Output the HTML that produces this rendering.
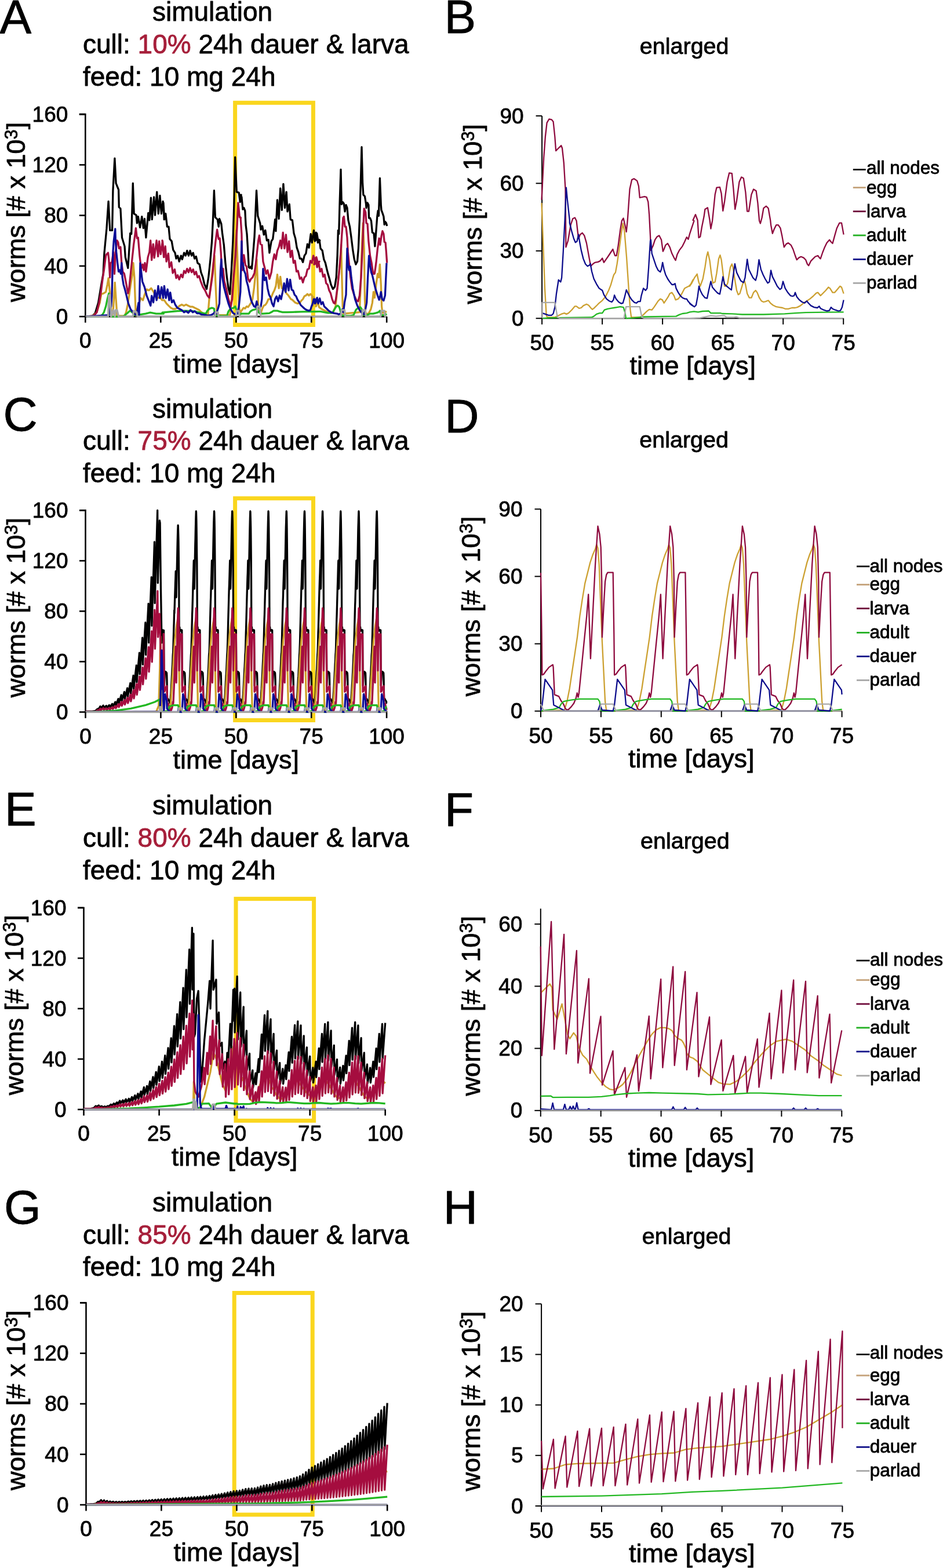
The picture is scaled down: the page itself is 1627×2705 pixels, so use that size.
<!DOCTYPE html>
<html><head><meta charset="utf-8"><style>
html,body{margin:0;padding:0;background:#fff;}
svg{display:block;}
text{font-family:"Liberation Sans", Arial, sans-serif;stroke:#000;stroke-width:0.8px;stroke-linejoin:round;}
.rd{fill:#a61f3a;stroke:#a61f3a;}
</style></head><body>
<svg xmlns="http://www.w3.org/2000/svg" width="1627" height="2705" viewBox="0 0 1627 2705">
<rect width="1627" height="2705" fill="#fff"/>
<rect x="405.6" y="177.3" width="134.79999999999995" height="383.2" fill="none" stroke="#fad61e" stroke-width="7"/>
<rect x="405.6" y="859.7" width="134.89999999999998" height="382.79999999999995" fill="none" stroke="#fad61e" stroke-width="7"/>
<rect x="407.0" y="1550.6" width="134.60000000000002" height="382.70000000000005" fill="none" stroke="#fad61e" stroke-width="7"/>
<rect x="404.2" y="2230.5" width="135.00000000000006" height="382.5" fill="none" stroke="#fad61e" stroke-width="7"/>
<text x="-0.5" y="56.6" font-size="82" text-anchor="start" fill="#000" >A</text>
<text x="263.0" y="36.0" font-size="46" text-anchor="start" fill="#000" >simulation</text>
<text x="143.0" y="91.8" font-size="46" text-anchor="start" fill="#000" >cull: <tspan class="rd">10%</tspan> 24h dauer &amp; larva</text>
<text x="143.0" y="147.7" font-size="46" text-anchor="start" fill="#000" >feed: 10 mg 24h</text>
<path d="M136.8,197.1 H147.3 V546.1 H667.2" fill="none" stroke="#000" stroke-width="2.6"/>
<path d="M147.6,546.1 L159.3,545.4 L164.4,539.8 L169.6,522.3 L174.8,491.1 L178.1,472.3 L180.0,436.1 L183.9,394.9 L187.1,347.4 L189.7,397.4 L193.6,397.4 L194.9,328.7 L197.9,273.1 L200.1,316.2 L204.6,327.4 L205.3,357.4 L207.9,359.9 L210.5,409.9 L215.0,424.9 L216.3,443.6 L220.8,462.3 L224.7,402.4 L226.7,403.6 L229.3,316.2 L231.2,368.6 L235.1,371.1 L236.4,384.9 L238.3,373.6 L241.6,392.4 L244.8,373.6 L247.4,393.6 L249.4,377.4 L251.9,409.9 L255.8,367.4 L257.8,379.9 L260.4,341.1 L262.3,378.6 L265.6,339.9 L267.5,371.1 L270.7,331.2 L273.3,368.6 L275.9,337.4 L278.5,368.6 L281.1,347.4 L283.7,378.6 L281.9,349.9 L283.2,378.6 L285.8,368.6 L288.4,391.1 L291.0,391.1 L293.0,412.4 L296.2,416.1 L298.8,431.1 L302.0,436.1 L304.0,446.1 L306.6,441.1 L309.2,451.1 L312.4,441.1 L314.4,447.4 L317.6,436.1 L320.2,441.1 L322.8,432.4 L325.4,441.1 L328.0,432.4 L330.6,441.1 L333.2,436.1 L335.7,446.1 L338.3,442.4 L340.9,453.6 L344.2,456.1 L346.8,469.8 L350.0,478.6 L352.6,489.8 L356.5,498.6 L359.7,478.6 L363.0,447.4 L365.6,416.1 L367.5,378.6 L369.4,328.7 L371.4,374.9 L375.3,378.6 L377.2,391.1 L378.5,377.4 L381.8,386.1 L383.7,403.6 L386.3,422.4 L388.9,453.6 L391.5,478.6 L394.1,497.3 L396.7,507.3 L399.3,466.1 L401.9,416.1 L403.8,353.6 L405.7,271.2 L408.3,331.2 L412.2,332.4 L414.2,348.6 L416.1,336.2 L415.0,336.2 L416.9,339.9 L418.9,361.1 L420.8,358.6 L422.8,363.6 L424.1,388.6 L426.0,403.6 L428.0,436.1 L429.3,461.1 L431.2,462.3 L433.1,459.8 L434.4,463.6 L436.4,441.1 L439.0,408.6 L440.9,366.1 L442.5,328.7 L444.8,372.4 L448.7,384.9 L450.0,396.1 L452.6,389.9 L455.2,404.9 L457.8,397.4 L460.4,414.9 L463.0,413.6 L464.9,436.1 L468.2,416.1 L470.7,412.4 L473.3,391.1 L474.6,378.6 L475.9,398.6 L478.5,344.9 L481.1,377.4 L483.7,324.9 L486.3,362.4 L488.9,317.4 L491.5,358.6 L494.1,331.2 L496.0,364.9 L499.3,352.4 L501.2,378.6 L504.4,379.9 L507.0,402.4 L509.6,411.1 L512.2,427.4 L514.8,434.9 L517.4,446.1 L520.0,446.1 L522.6,452.3 L525.2,441.1 L527.8,437.4 L530.4,421.1 L533.0,427.4 L536.2,403.6 L538.2,418.6 L541.4,397.4 L543.3,416.1 L546.6,402.4 L549.2,417.4 L551.8,414.9 L542.6,413.6 L545.2,401.1 L548.4,418.6 L551.0,413.6 L553.0,428.6 L556.2,432.4 L558.8,447.4 L561.4,453.6 L564.0,464.8 L565.9,472.3 L568.5,481.1 L571.1,491.1 L574.4,498.6 L577.6,494.8 L580.2,478.6 L582.1,441.1 L583.4,397.4 L584.7,403.6 L586.0,353.6 L588.0,292.4 L589.3,352.4 L591.2,348.6 L593.2,351.1 L595.1,364.9 L597.0,353.6 L599.0,358.6 L600.9,379.9 L603.5,391.1 L606.1,409.9 L608.7,431.1 L611.3,447.4 L613.9,456.1 L616.5,451.1 L618.4,428.6 L620.4,378.6 L622.3,316.2 L624.0,253.7 L625.6,316.2 L626.9,336.2 L629.4,338.7 L631.4,351.1 L632.0,358.6 L634.0,349.9 L635.9,353.6 L636.6,376.1 L638.5,376.1 L640.5,381.1 L642.4,401.1 L645.0,402.4 L646.9,424.9 L649.5,391.1 L650.8,373.6 L652.1,363.6 L653.4,372.4 L655.4,307.4 L657.3,353.6 L658.0,362.4 L659.9,367.4 L661.9,373.6 L663.2,387.4 L664.4,382.4 L666.4,384.9 L667.7,389.9" fill="none" stroke="#000000" stroke-width="3.3" stroke-linejoin="round"/>
<path d="M147.6,546.1 L160.6,544.8 L167.0,538.6 L172.2,522.3 L174.8,507.3 L178.7,506.1 L182.6,503.6 L185.2,491.1 L187.1,479.8 L189.7,506.1 L191.0,528.6 L193.0,543.6 L194.9,541.1 L196.9,509.8 L198.2,487.3 L200.1,516.1 L202.0,544.8 L215.0,544.8 L217.6,538.6 L220.2,526.1 L222.8,509.8 L225.4,491.1 L228.6,472.3 L229.9,453.6 L231.9,478.6 L234.3,544.3 L238.1,529.2 L242.8,514.2 L246.6,517.9 L249.4,508.5 L253.2,499.1 L257.0,500.9 L260.8,497.2 L264.5,502.8 L268.3,510.4 L272.1,514.2 L275.8,512.3 L279.6,517.9 L283.4,517.9 L287.2,523.6 L290.9,527.4 L294.7,531.1 L298.5,533.0 L302.3,533.0 L306.0,531.1 L309.8,527.4 L313.6,525.5 L317.4,527.4 L321.1,525.5 L324.9,527.4 L328.7,529.2 L332.5,529.2 L336.2,531.1 L340.0,533.0 L343.8,534.9 L347.5,538.7 L353.2,542.5 L358.9,544.3 L359.1,538.6 L361.0,516.1 L363.6,491.1 L368.2,453.6 L370.1,441.1 L372.0,491.1 L374.0,534.8 L375.9,543.6 L396.7,543.6 L398.0,534.8 L400.6,503.6 L403.2,466.1 L405.7,428.6 L407.7,397.4 L409.6,441.1 L412.2,528.6 L414.8,541.1 L415.0,538.6 L417.6,534.8 L420.2,531.1 L422.8,532.3 L425.4,528.6 L428.0,529.8 L430.6,526.1 L433.1,522.3 L435.7,516.1 L438.3,497.3 L440.9,472.3 L442.9,447.4 L444.2,478.6 L445.5,528.6 L447.4,538.6 L450.6,538.6 L452.6,532.3 L455.2,527.3 L457.8,526.1 L460.4,522.3 L463.0,516.1 L465.6,516.1 L468.2,512.3 L470.7,506.1 L473.3,501.1 L475.9,493.6 L478.5,473.6 L481.1,497.3 L483.7,477.3 L486.3,497.3 L488.9,497.3 L491.5,501.1 L494.1,506.1 L496.7,508.6 L499.3,512.3 L501.9,516.1 L504.4,517.3 L507.0,519.8 L509.6,522.3 L513.5,523.6 L517.4,522.3 L520.0,518.6 L522.6,516.1 L525.2,511.1 L527.8,509.8 L530.4,507.3 L533.0,509.8 L535.6,507.3 L538.2,509.8 L540.0,527.3 L540.7,512.3 L544.6,518.6 L545.2,528.6 L548.5,519.8 L550.4,529.8 L555.6,533.6 L560.7,536.1 L565.9,538.6 L571.1,539.8 L575.0,538.6 L578.9,528.6 L582.8,491.1 L586.7,453.6 L588.6,422.4 L589.9,478.6 L591.2,528.6 L592.5,541.1 L620.4,538.6 L622.3,491.1 L624.3,428.6 L626.2,384.9 L628.2,428.6 L629.4,516.1 L630.7,541.1 L635.9,541.1 L639.8,533.6 L642.4,522.3 L644.4,503.6 L646.3,513.6 L648.9,491.1 L651.5,472.3 L653.4,478.6 L655.4,456.1 L657.3,491.1 L658.6,528.6 L659.9,539.8 L664.4,538.6 L667.0,537.3" fill="none" stroke="#cfa02a" stroke-width="3.3" stroke-linejoin="round"/>
<path d="M147.6,546.1 L161.9,544.8 L167.0,538.6 L170.9,522.3 L174.2,503.6 L177.4,478.6 L179.4,466.1 L182.6,441.1 L183.9,438.6 L186.5,436.1 L187.8,447.4 L189.7,478.6 L191.0,453.6 L193.0,452.3 L195.6,434.9 L197.5,472.3 L199.4,434.9 L202.0,414.9 L204.0,418.6 L205.3,428.6 L207.9,426.1 L209.8,453.6 L211.8,468.6 L214.4,472.3 L216.9,484.8 L220.8,506.1 L222.8,497.3 L226.0,466.1 L228.6,441.1 L230.6,422.4 L234.4,393.6 L236.4,411.1 L238.3,409.9 L240.9,441.1 L243.5,463.6 L246.1,456.1 L248.1,466.1 L250.0,453.6 L251.9,468.6 L255.2,443.6 L257.8,434.9 L259.7,414.9 L261.7,448.6 L264.3,421.1 L266.2,444.9 L270.1,414.9 L272.7,442.4 L274.6,416.1 L277.2,438.6 L280.5,416.1 L283.1,443.6 L280.0,414.9 L282.6,443.6 L285.2,424.9 L287.1,451.1 L290.4,437.4 L292.3,461.1 L295.6,452.3 L298.1,471.1 L301.4,464.8 L304.0,479.8 L306.6,474.8 L309.2,482.3 L312.4,473.6 L315.0,478.6 L317.6,467.3 L320.2,471.1 L322.8,463.6 L325.4,469.8 L328.0,462.3 L330.6,469.8 L333.2,464.8 L335.7,473.6 L338.3,468.6 L340.9,478.6 L343.5,476.1 L346.1,484.8 L350.0,494.8 L353.9,501.1 L357.8,509.8 L361.0,513.6 L364.3,491.1 L366.9,472.3 L369.4,441.1 L372.0,416.1 L374.6,396.1 L377.2,412.4 L379.2,411.1 L381.1,434.9 L383.1,472.3 L385.0,463.6 L386.9,484.8 L390.2,497.3 L394.1,516.1 L398.0,528.6 L400.6,516.1 L403.2,478.6 L406.4,441.1 L409.0,391.1 L410.9,349.9 L413.5,374.9 L415.5,376.1 L415.0,374.9 L416.9,403.6 L418.2,466.1 L420.8,439.9 L423.4,457.3 L425.4,459.8 L428.0,481.1 L430.6,486.1 L433.1,481.1 L435.7,478.6 L439.0,471.1 L440.9,458.6 L442.9,441.1 L445.5,416.1 L447.4,406.1 L449.4,421.1 L451.9,422.4 L453.9,451.1 L456.5,461.1 L459.1,472.3 L461.7,466.1 L464.9,481.1 L468.2,469.8 L470.7,451.1 L473.3,438.6 L475.9,447.4 L478.5,432.4 L481.1,426.1 L483.7,414.9 L485.7,428.6 L488.2,401.1 L490.8,428.6 L493.4,404.9 L496.0,434.9 L498.6,416.1 L501.2,443.6 L503.8,432.4 L506.4,453.6 L509.0,449.8 L511.6,468.6 L514.2,467.3 L517.4,481.1 L520.0,478.6 L522.6,487.3 L525.2,478.6 L527.8,476.1 L530.4,464.8 L533.0,463.6 L535.6,449.8 L538.2,453.6 L540.7,441.1 L543.3,452.3 L545.9,443.6 L548.5,453.6 L551.1,451.1 L541.9,456.1 L544.5,444.9 L547.1,461.1 L549.7,452.3 L552.3,468.6 L554.9,463.6 L557.5,477.3 L560.1,473.6 L562.7,488.6 L565.3,491.1 L567.9,501.1 L570.5,506.1 L573.1,516.1 L575.6,522.3 L577.6,523.6 L579.5,516.1 L582.8,491.1 L585.4,466.1 L588.0,434.9 L589.9,403.6 L591.9,376.1 L593.4,373.6 L595.1,391.1 L597.0,391.1 L599.0,409.9 L600.3,434.9 L602.2,453.6 L604.8,478.6 L607.4,497.3 L611.3,509.8 L615.2,518.6 L617.8,519.8 L620.4,509.8 L623.0,478.6 L625.6,422.4 L628.2,359.9 L630.7,366.1 L632.0,384.9 L634.0,386.1 L635.9,416.1 L638.5,441.1 L641.1,453.6 L643.7,472.3 L646.3,472.3 L648.9,453.6 L651.5,428.6 L654.1,411.1 L656.0,422.4 L658.0,407.4 L659.9,398.6 L661.9,403.6 L663.2,417.4 L665.1,418.6 L666.4,434.9 L667.7,453.6" fill="none" stroke="#a50d3f" stroke-width="3.3" stroke-linejoin="round"/>
<path d="M147.6,546.1 L170.9,546.1 L176.1,543.6 L179.4,538.6 L182.6,528.6 L185.2,516.1 L187.8,506.1 L189.7,534.8 L191.7,546.1 L212.4,546.1 L215.7,543.6 L220.2,539.8 L224.1,536.1 L228.0,538.6 L231.9,543.6 L235.7,543.6 L243.5,542.3 L251.3,541.1 L259.1,539.2 L269.4,541.1 L282.4,541.1 L280.0,539.2 L293.0,537.9 L305.9,536.7 L318.9,536.1 L331.9,536.7 L344.8,539.2 L355.2,541.1 L357.8,536.1 L361.7,532.3 L365.6,531.1 L369.4,532.3 L370.7,543.6 L377.2,544.8 L391.5,544.8 L394.1,537.3 L398.0,532.3 L403.2,531.1 L405.7,528.6 L408.3,534.8 L410.9,541.1 L414.8,542.3 L415.0,541.1 L429.3,541.1 L431.9,537.3 L435.7,534.8 L440.9,533.6 L443.5,532.3 L446.1,538.6 L448.7,541.1 L453.9,541.1 L464.3,540.4 L468.2,538.6 L472.0,536.1 L478.5,536.1 L482.4,537.3 L487.6,538.6 L495.4,538.6 L505.7,538.3 L518.7,537.9 L531.7,537.6 L544.6,537.6 L549.8,537.3 L540.0,537.3 L553.0,537.3 L565.9,539.8 L573.7,539.8 L576.3,534.8 L580.2,528.6 L582.8,527.3 L585.4,529.8 L589.3,543.6 L594.4,544.8 L604.8,544.8 L610.0,543.6 L613.9,534.8 L617.8,531.1 L621.7,529.8 L624.3,533.6 L626.9,543.6 L633.3,543.6 L638.5,541.1 L643.7,541.1 L648.9,539.8 L652.8,538.6 L655.4,536.1 L658.0,543.6 L664.4,543.6 L667.0,541.1" fill="none" stroke="#22b822" stroke-width="3.3" stroke-linejoin="round"/>
<path d="M147.6,546.1 L187.8,543.6 L189.1,534.8 L191.7,528.6 L193.0,509.8 L194.9,434.9 L196.2,416.1 L198.8,394.9 L199.4,416.1 L200.7,434.9 L202.7,453.6 L204.6,468.6 L206.6,466.1 L208.5,472.3 L209.8,453.6 L211.1,478.6 L213.1,491.1 L215.7,499.8 L218.2,509.8 L221.5,523.6 L225.4,533.6 L229.3,538.6 L233.2,542.3 L235.7,543.6 L237.0,534.8 L239.0,522.3 L240.0,544.3 L241.9,453.8 L245.7,485.8 L249.4,495.3 L253.2,510.4 L257.0,519.8 L259.8,527.4 L261.7,510.4 L264.5,521.7 L267.4,500.9 L270.2,517.9 L273.0,493.4 L275.8,514.2 L278.7,495.3 L281.5,514.2 L283.4,493.4 L286.2,514.2 L289.1,499.1 L291.9,517.9 L293.8,504.7 L296.6,521.7 L299.4,517.9 L302.3,525.5 L306.0,531.1 L309.8,533.0 L313.6,534.9 L317.4,538.7 L321.1,536.8 L324.9,539.6 L328.7,534.9 L332.5,538.7 L336.2,536.8 L340.0,540.6 L343.8,540.6 L347.5,542.5 L353.2,543.4 L358.9,544.3 L364.5,543.4 L368.2,541.1 L370.7,538.6 L373.3,541.1 L376.6,531.1 L378.5,523.6 L380.5,466.1 L381.8,447.4 L383.7,478.6 L386.3,494.8 L390.2,509.8 L394.1,523.6 L398.0,533.6 L401.9,539.8 L405.7,542.3 L409.6,541.1 L412.2,528.6 L414.8,503.6 L416.3,441.1 L416.9,416.1 L417.4,453.6 L418.9,453.6 L420.8,466.1 L423.4,472.3 L425.4,484.8 L428.0,493.6 L430.6,507.3 L433.1,517.3 L435.7,523.6 L438.3,528.6 L440.9,529.8 L442.9,519.8 L444.8,528.6 L447.4,531.1 L450.0,528.6 L451.9,516.1 L453.9,463.6 L456.5,483.6 L459.1,478.6 L461.7,497.3 L464.3,508.6 L466.9,513.6 L469.4,523.6 L472.0,528.6 L474.6,516.1 L477.2,511.1 L479.8,519.8 L482.4,509.8 L485.0,516.1 L487.6,503.6 L490.2,488.6 L492.8,503.6 L495.4,481.1 L498.0,501.1 L500.6,482.3 L503.2,499.8 L505.7,501.1 L508.3,508.6 L510.9,511.1 L513.5,517.3 L516.1,521.1 L518.7,526.1 L521.3,528.6 L525.2,532.3 L529.1,534.8 L533.0,536.1 L535.6,534.8 L537.5,528.6 L539.4,523.6 L541.4,516.1 L542.6,516.1 L543.3,523.6 L544.5,522.3 L545.9,516.1 L547.1,513.6 L548.5,522.3 L549.1,523.6 L551.1,516.1 L551.7,514.8 L554.3,524.8 L556.9,521.1 L559.4,528.6 L563.3,532.3 L567.2,536.1 L571.1,538.6 L576.3,540.4 L581.5,541.1 L584.1,542.3 L588.0,541.1 L590.6,533.6 L592.5,538.6 L594.4,522.3 L597.0,508.6 L599.0,428.6 L600.3,453.6 L602.2,466.1 L604.2,459.8 L606.1,478.6 L608.7,497.3 L612.6,516.1 L616.5,527.3 L620.4,534.8 L624.3,539.8 L628.2,542.3 L630.7,532.3 L632.7,522.3 L634.6,478.6 L636.6,441.1 L638.5,457.3 L640.5,469.8 L642.4,474.8 L645.0,486.1 L647.6,497.3 L651.5,509.8 L654.1,517.3 L656.0,509.8 L657.3,503.6 L659.3,516.1 L661.9,518.6 L664.4,509.8 L667.0,453.6" fill="none" stroke="#0c0c96" stroke-width="3.3" stroke-linejoin="round"/>
<path d="M147.6,546.1 L186.5,546.1 L187.8,509.8 L189.7,508.6 L191.7,546.1 L195.6,534.8 L198.2,546.1 L199.4,534.8 L202.0,534.8 L204.6,546.1 L229.3,546.1 L230.6,536.1 L235.7,538.6 L237.0,546.1 L282.4,546.1 L280.0,546.1 L370.7,546.1 L372.0,538.6 L375.9,538.6 L377.2,546.1 L407.0,546.1 L408.3,536.1 L412.2,536.1 L413.5,546.1 L414.8,546.1 L415.0,546.1 L442.9,546.1 L444.2,528.6 L448.1,528.6 L450.0,546.1 L549.8,546.1 L540.0,546.1 L588.0,546.1 L589.3,534.8 L594.4,534.8 L595.7,546.1 L624.3,546.1 L625.6,534.8 L630.1,534.8 L631.4,546.1 L656.7,546.1 L658.0,536.1 L663.2,536.1 L664.4,546.1 L667.0,546.1" fill="none" stroke="#a6a6a6" stroke-width="3.3" stroke-linejoin="round"/>
<line x1="136.8" y1="546.1" x2="147.3" y2="546.1" stroke="#000" stroke-width="2.6" stroke-linecap="butt"/>
<text x="117.3" y="558.7" font-size="37" text-anchor="end" fill="#000" >0</text>
<line x1="136.8" y1="458.9" x2="147.3" y2="458.9" stroke="#000" stroke-width="2.6" stroke-linecap="butt"/>
<text x="117.3" y="471.5" font-size="37" text-anchor="end" fill="#000" >40</text>
<line x1="136.8" y1="371.6" x2="147.3" y2="371.6" stroke="#000" stroke-width="2.6" stroke-linecap="butt"/>
<text x="117.3" y="384.2" font-size="37" text-anchor="end" fill="#000" >80</text>
<line x1="136.8" y1="284.4" x2="147.3" y2="284.4" stroke="#000" stroke-width="2.6" stroke-linecap="butt"/>
<text x="117.3" y="297.0" font-size="37" text-anchor="end" fill="#000" >120</text>
<line x1="136.8" y1="197.1" x2="147.3" y2="197.1" stroke="#000" stroke-width="2.6" stroke-linecap="butt"/>
<text x="117.3" y="209.7" font-size="37" text-anchor="end" fill="#000" >160</text>
<line x1="147.3" y1="546.1" x2="147.3" y2="556.6" stroke="#000" stroke-width="2.6" stroke-linecap="butt"/>
<text x="147.3" y="600.3" font-size="37" text-anchor="middle" fill="#000" >0</text>
<line x1="277.3" y1="546.1" x2="277.3" y2="556.6" stroke="#000" stroke-width="2.6" stroke-linecap="butt"/>
<text x="277.3" y="600.3" font-size="37" text-anchor="middle" fill="#000" >25</text>
<line x1="407.3" y1="546.1" x2="407.3" y2="556.6" stroke="#000" stroke-width="2.6" stroke-linecap="butt"/>
<text x="407.3" y="600.3" font-size="37" text-anchor="middle" fill="#000" >50</text>
<line x1="537.2" y1="546.1" x2="537.2" y2="556.6" stroke="#000" stroke-width="2.6" stroke-linecap="butt"/>
<text x="537.2" y="600.3" font-size="37" text-anchor="middle" fill="#000" >75</text>
<line x1="667.2" y1="546.1" x2="667.2" y2="556.6" stroke="#000" stroke-width="2.6" stroke-linecap="butt"/>
<text x="667.2" y="600.3" font-size="37" text-anchor="middle" fill="#000" >100</text>
<text x="407.2" y="643.2" font-size="45" text-anchor="middle" fill="#000" >time [days]</text>
<text transform="translate(42.9,365.9) rotate(-90)" x="0" y="0" font-size="45" text-anchor="middle" textLength="310.20000000000005" lengthAdjust="spacingAndGlyphs">worms [# x 10<tspan font-size="30.6" dy="-13.0">3</tspan><tspan dy="13.0">]</tspan></text>
<text x="5.5" y="743.4" font-size="82" text-anchor="start" fill="#000" >C</text>
<text x="263.0" y="720.6" font-size="46" text-anchor="start" fill="#000" >simulation</text>
<text x="143.0" y="776.4" font-size="46" text-anchor="start" fill="#000" >cull: <tspan class="rd">75%</tspan> 24h dauer &amp; larva</text>
<text x="143.0" y="832.3" font-size="46" text-anchor="start" fill="#000" >feed: 10 mg 24h</text>
<path d="M137.0,880.4 H147.5 V1228.4 H667.1" fill="none" stroke="#000" stroke-width="2.6"/>
<path d="M147.5,1227.3 L158.9,1227.3 L163.1,1226.7 L163.7,1227.3 L168.3,1223.0 L168.9,1224.9 L173.0,1218.6 L173.6,1222.1 L178.2,1217.1 L178.8,1221.2 L183.4,1217.5 L184.0,1221.4 L188.5,1216.4 L189.2,1220.7 L193.7,1214.3 L194.4,1219.4 L198.9,1211.0 L199.6,1217.3 L204.1,1205.6 L204.8,1213.8 L209.3,1199.0 L210.0,1209.6 L214.5,1193.6 L215.2,1206.1 L219.7,1187.1 L220.3,1202.0 L224.9,1178.4 L225.5,1196.4 L230.1,1165.3 L230.7,1188.0 L235.3,1147.9 L235.9,1176.9 L240.5,1126.2 L241.1,1163.0 L245.7,1100.1 L246.3,1146.3 L250.9,1074.0 L251.5,1129.6 L256.1,1041.3 L256.7,1108.7 L261.3,995.7 L261.9,1079.5 L266.5,934.8 L267.1,1040.5 L271.7,880.4 L272.3,1005.7 L275.3,897.8 L276.1,902.1 L277.4,1010.9 L279.0,1108.8 L279.7,1097.9 L281.0,1087.0 L282.1,1089.2 L282.6,1093.5 L282.6,1087.4 L282.8,1116.2 L283.0,1146.0 L283.2,1182.7 L283.4,1179.4 L283.6,1176.1 L283.8,1172.8 L284.1,1168.6 L284.3,1163.8 L284.5,1159.1 L284.7,1158.7 L284.9,1158.7 L285.1,1158.7 L285.3,1158.7 L285.5,1158.8 L285.7,1158.8 L285.9,1158.8 L286.1,1158.8 L286.3,1159.1 L286.5,1159.4 L286.8,1159.7 L287.0,1160.0 L287.2,1160.3 L287.4,1160.6 L287.6,1160.9 L287.8,1165.1 L288.0,1173.2 L288.2,1187.8 L288.4,1197.8 L288.6,1204.3 L288.8,1204.6 L289.0,1204.8 L289.2,1205.1 L289.5,1205.4 L289.7,1205.7 L289.9,1206.0 L290.1,1206.2 L290.3,1206.5 L290.5,1207.1 L290.7,1207.7 L290.9,1207.9 L291.1,1208.2 L291.3,1208.4 L291.5,1208.8 L291.7,1209.1 L291.9,1209.5 L292.2,1209.9 L292.4,1210.3 L292.6,1211.3 L292.8,1212.6 L293.0,1212.4 L293.2,1212.1 L293.4,1210.9 L293.6,1209.6 L293.8,1208.4 L294.0,1206.4 L294.2,1203.8 L294.4,1201.1 L294.7,1198.5 L294.9,1195.6 L295.1,1192.5 L295.3,1188.9 L295.5,1185.2 L295.7,1181.6 L295.9,1177.8 L296.1,1174.0 L296.3,1170.2 L296.5,1166.4 L296.7,1162.6 L296.9,1158.6 L297.1,1154.3 L297.4,1150.0 L297.6,1145.8 L297.8,1141.5 L298.0,1136.3 L298.2,1130.9 L298.4,1127.8 L298.6,1125.8 L298.8,1121.9 L299.0,1115.6 L299.2,1107.8 L299.4,1099.3 L299.6,1091.4 L299.8,1083.6 L300.1,1075.8 L300.3,1068.0 L300.5,1060.2 L300.7,1052.6 L300.9,1058.0 L301.1,1051.0 L301.3,1044.1 L301.5,1037.1 L301.7,1030.4 L301.9,1024.3 L302.1,1018.2 L302.3,1012.1 L302.5,1005.3 L302.8,998.2 L303.0,991.0 L303.2,985.3 L303.4,996.6 L303.6,1007.9 L303.8,1019.2 L304.0,1030.7 L304.2,1028.7 L304.4,1018.7 L304.6,1008.7 L304.8,998.7 L305.0,988.8 L305.3,979.1 L305.5,969.4 L305.7,959.7 L305.9,950.0 L306.1,940.3 L306.3,932.1 L306.5,924.2 L306.7,916.8 L306.9,911.5 L307.1,906.2 L307.3,907.2 L307.5,914.2 L307.7,921.2 L308.0,933.3 L308.2,948.9 L308.4,966.6 L308.6,987.1 L308.8,1016.4 L309.0,1065.3 L309.2,1091.9 L309.4,1091.9 L309.6,1091.9 L309.8,1081.8 L310.0,1083.4 L310.2,1085.0 L310.4,1086.3 L310.7,1087.3 L310.9,1088.3 L311.1,1088.0 L311.3,1087.3 L311.5,1086.6 L311.7,1086.6 L311.9,1086.6 L312.1,1086.7 L312.3,1086.7 L312.5,1086.8 L312.7,1086.8 L312.9,1086.8 L313.1,1086.9 L313.4,1086.9 L313.6,1086.9 L313.8,1087.4 L314.0,1116.2 L314.2,1146.0 L314.4,1182.7 L314.6,1179.4 L314.8,1176.1 L315.0,1172.8 L315.2,1168.6 L315.4,1163.8 L315.6,1159.1 L315.9,1158.7 L316.1,1158.7 L316.3,1158.7 L316.5,1158.7 L316.7,1158.8 L316.9,1158.8 L317.1,1158.8 L317.3,1158.8 L317.5,1159.1 L317.7,1159.4 L317.9,1159.7 L318.1,1160.0 L318.3,1160.3 L318.6,1160.6 L318.8,1160.9 L319.0,1165.1 L319.2,1173.2 L319.4,1187.8 L319.6,1197.8 L319.8,1204.3 L320.0,1204.6 L320.2,1204.8 L320.4,1205.1 L320.6,1205.4 L320.8,1205.7 L321.0,1206.0 L321.3,1206.2 L321.5,1206.5 L321.7,1207.1 L321.9,1207.7 L322.1,1207.9 L322.3,1208.2 L322.5,1208.4 L322.7,1208.8 L322.9,1209.1 L323.1,1209.5 L323.3,1209.9 L323.5,1210.3 L323.7,1211.3 L324.0,1212.6 L324.2,1212.4 L324.4,1212.1 L324.6,1210.9 L324.8,1209.6 L325.0,1208.4 L325.2,1206.4 L325.4,1203.8 L325.6,1201.1 L325.8,1198.5 L326.0,1195.6 L326.2,1192.5 L326.5,1188.9 L326.7,1185.2 L326.9,1181.6 L327.1,1177.8 L327.3,1174.0 L327.5,1170.2 L327.7,1166.4 L327.9,1162.6 L328.1,1158.6 L328.3,1154.3 L328.5,1150.0 L328.7,1145.8 L328.9,1141.5 L329.2,1136.3 L329.4,1130.9 L329.6,1127.8 L329.8,1125.8 L330.0,1121.9 L330.2,1115.6 L330.4,1107.8 L330.6,1099.3 L330.8,1091.4 L331.0,1083.6 L331.2,1075.8 L331.4,1068.0 L331.6,1060.2 L331.9,1052.6 L332.1,1045.2 L332.3,1037.7 L332.5,1030.2 L332.7,1022.7 L332.9,1015.4 L333.1,1008.9 L333.3,1002.4 L333.5,995.8 L333.7,988.5 L333.9,980.8 L334.1,973.1 L334.3,967.0 L334.6,979.2 L334.8,991.3 L335.0,1003.5 L335.2,1015.9 L335.4,1013.7 L335.6,1002.9 L335.8,992.2 L336.0,981.5 L336.2,970.8 L336.4,960.3 L336.6,949.9 L336.8,939.5 L337.1,929.0 L337.3,918.6 L337.5,909.8 L337.7,901.3 L337.9,893.3 L338.1,887.7 L338.3,882.0 L338.5,883.0 L338.7,890.5 L338.9,898.1 L339.1,911.1 L339.3,927.9 L339.5,946.9 L339.8,969.0 L340.0,1000.5 L340.2,1053.0 L340.4,1081.6 L340.6,1081.6 L340.8,1081.7 L341.0,1081.8 L341.2,1083.4 L341.4,1085.0 L341.6,1086.3 L341.8,1087.3 L342.0,1088.3 L342.2,1088.0 L342.5,1087.3 L342.7,1086.6 L342.9,1086.6 L343.1,1086.6 L343.3,1086.7 L343.5,1086.7 L343.7,1086.8 L343.9,1086.8 L344.1,1086.8 L344.3,1086.9 L344.5,1086.9 L344.7,1086.9 L344.9,1087.4 L345.2,1116.2 L345.4,1146.0 L345.6,1182.7 L345.8,1179.4 L346.0,1176.1 L346.2,1172.8 L346.4,1168.6 L346.6,1163.8 L346.8,1159.1 L347.0,1158.7 L347.2,1158.7 L347.4,1158.7 L347.6,1158.7 L347.9,1158.8 L348.1,1158.8 L348.3,1158.8 L348.5,1158.8 L348.7,1159.1 L348.9,1159.4 L349.1,1159.7 L349.3,1160.0 L349.5,1160.3 L349.7,1160.6 L349.9,1160.9 L350.1,1165.1 L350.4,1173.2 L350.6,1187.8 L350.8,1197.8 L351.0,1204.3 L351.2,1204.6 L351.4,1204.8 L351.6,1205.1 L351.8,1205.4 L352.0,1205.7 L352.2,1206.0 L352.4,1206.2 L352.6,1206.5 L352.8,1207.1 L353.1,1207.7 L353.3,1207.9 L353.5,1208.2 L353.7,1208.4 L353.9,1208.8 L354.1,1209.1 L354.3,1209.5 L354.5,1209.9 L354.7,1210.3 L354.9,1211.3 L355.1,1212.6 L355.3,1212.4 L355.5,1212.1 L355.8,1210.9 L356.0,1209.6 L356.2,1208.4 L356.4,1206.4 L356.6,1203.8 L356.8,1201.1 L357.0,1198.5 L357.2,1195.6 L357.4,1192.5 L357.6,1188.9 L357.8,1185.2 L358.0,1181.6 L358.2,1177.8 L358.5,1174.0 L358.7,1170.2 L358.9,1166.4 L359.1,1162.6 L359.3,1158.6 L359.5,1154.3 L359.7,1150.0 L359.9,1145.8 L360.1,1141.5 L360.3,1136.3 L360.5,1130.9 L360.7,1127.8 L361.0,1125.8 L361.2,1121.9 L361.4,1115.6 L361.6,1107.8 L361.8,1099.3 L362.0,1091.4 L362.2,1083.6 L362.4,1075.8 L362.6,1068.0 L362.8,1060.2 L363.0,1052.6 L363.2,1045.2 L363.4,1037.7 L363.7,1030.2 L363.9,1022.7 L364.1,1015.4 L364.3,1008.9 L364.5,1002.4 L364.7,995.8 L364.9,988.5 L365.1,980.8 L365.3,973.1 L365.5,967.0 L365.7,979.2 L365.9,991.3 L366.1,1003.5 L366.4,1015.9 L366.6,1013.7 L366.8,1002.9 L367.0,992.2 L367.2,981.5 L367.4,970.8 L367.6,960.3 L367.8,949.9 L368.0,939.5 L368.2,929.0 L368.4,918.6 L368.6,909.8 L368.8,901.3 L369.1,893.3 L369.3,887.7 L369.5,882.0 L369.7,883.0 L369.9,890.5 L370.1,898.1 L370.3,911.1 L370.5,927.9 L370.7,946.9 L370.9,969.0 L371.1,1000.5 L371.3,1053.0 L371.6,1081.6 L371.8,1081.6 L372.0,1081.7 L372.2,1081.8 L372.4,1083.4 L372.6,1085.0 L372.8,1086.3 L373.0,1087.3 L373.2,1088.3 L373.4,1088.0 L373.6,1087.3 L373.8,1086.6 L374.0,1086.6 L374.3,1086.6 L374.5,1086.7 L374.7,1086.7 L374.9,1086.8 L375.1,1086.8 L375.3,1086.8 L375.5,1086.9 L375.7,1086.9 L375.9,1086.9 L376.1,1087.4 L376.3,1116.2 L376.5,1146.0 L376.7,1182.7 L377.0,1179.4 L377.2,1176.1 L377.4,1172.8 L377.6,1168.6 L377.8,1163.8 L378.0,1159.1 L378.2,1158.7 L378.4,1158.7 L378.6,1158.7 L378.8,1158.7 L379.0,1158.8 L379.2,1158.8 L379.4,1158.8 L379.7,1158.8 L379.9,1159.1 L380.1,1159.4 L380.3,1159.7 L380.5,1160.0 L380.7,1160.3 L380.9,1160.6 L381.1,1160.9 L381.3,1165.1 L381.5,1173.2 L381.7,1187.8 L381.9,1197.8 L382.2,1204.3 L382.4,1204.6 L382.6,1204.8 L382.8,1205.1 L383.0,1205.4 L383.2,1205.7 L383.4,1206.0 L383.6,1206.2 L383.8,1206.5 L384.0,1207.1 L384.2,1207.7 L384.4,1207.9 L384.6,1208.2 L384.9,1208.4 L385.1,1208.8 L385.3,1209.1 L385.5,1209.5 L385.7,1209.9 L385.9,1210.3 L386.1,1211.3 L386.3,1212.6 L386.5,1212.4 L386.7,1212.1 L386.9,1210.9 L387.1,1209.6 L387.3,1208.4 L387.6,1206.4 L387.8,1203.8 L388.0,1201.1 L388.2,1198.5 L388.4,1195.6 L388.6,1192.5 L388.8,1188.9 L389.0,1185.2 L389.2,1181.6 L389.4,1177.8 L389.6,1174.0 L389.8,1170.2 L390.0,1166.4 L390.3,1162.6 L390.5,1158.6 L390.7,1154.3 L390.9,1150.0 L391.1,1145.8 L391.3,1141.5 L391.5,1136.3 L391.7,1130.9 L391.9,1127.8 L392.1,1125.8 L392.3,1121.9 L392.5,1115.6 L392.8,1107.8 L393.0,1099.3 L393.2,1091.4 L393.4,1083.6 L393.6,1075.8 L393.8,1068.0 L394.0,1060.2 L394.2,1052.6 L394.4,1045.2 L394.6,1037.7 L394.8,1030.2 L395.0,1022.7 L395.2,1015.4 L395.5,1008.9 L395.7,1002.4 L395.9,995.8 L396.1,988.5 L396.3,980.8 L396.5,973.1 L396.7,967.0 L396.9,979.2 L397.1,991.3 L397.3,1003.5 L397.5,1015.9 L397.7,1013.7 L397.9,1002.9 L398.2,992.2 L398.4,981.5 L398.6,970.8 L398.8,960.3 L399.0,949.9 L399.2,939.5 L399.4,929.0 L399.6,918.6 L399.8,909.8 L400.0,901.3 L400.2,893.3 L400.4,887.7 L400.6,882.0 L400.9,883.0 L401.1,890.5 L401.3,898.1 L401.5,911.1 L401.7,927.9 L401.9,946.9 L402.1,969.0 L402.3,1000.5 L402.5,1053.0 L402.7,1081.6 L402.9,1081.6 L403.1,1081.7 L403.4,1081.8 L403.6,1083.4 L403.8,1085.0 L404.0,1086.3 L404.2,1087.3 L404.4,1088.3 L404.6,1088.0 L404.8,1087.3 L405.0,1086.6 L405.2,1086.6 L405.4,1086.6 L405.6,1086.7 L405.8,1086.7 L406.1,1086.8 L406.3,1086.8 L406.5,1086.8 L406.7,1086.9 L406.9,1086.9 L407.1,1086.9 L407.3,1087.4 L407.5,1116.2 L407.7,1146.0 L407.9,1182.7 L408.1,1179.4 L408.3,1176.1 L408.5,1172.8 L408.8,1168.6 L409.0,1163.8 L409.2,1159.1 L409.4,1158.7 L409.6,1158.7 L409.8,1158.7 L410.0,1158.7 L410.2,1158.8 L410.4,1158.8 L410.6,1158.8 L410.8,1158.8 L411.0,1159.1 L411.2,1159.4 L411.5,1159.7 L411.7,1160.0 L411.9,1160.3 L412.1,1160.6 L412.3,1160.9 L412.5,1165.1 L412.7,1173.2 L412.9,1187.8 L413.1,1197.8 L413.3,1204.3 L413.5,1204.6 L413.7,1204.8 L414.0,1205.1 L414.2,1205.4 L414.4,1205.7 L414.6,1206.0 L414.8,1206.2 L415.0,1206.5 L415.2,1207.1 L415.4,1207.7 L415.6,1207.9 L415.8,1208.2 L416.0,1208.4 L416.2,1208.8 L416.4,1209.1 L416.7,1209.5 L416.9,1209.9 L417.1,1210.3 L417.3,1211.3 L417.5,1212.6 L417.7,1212.4 L417.9,1212.1 L418.1,1210.9 L418.3,1209.6 L418.5,1208.4 L418.7,1206.4 L418.9,1203.8 L419.1,1201.1 L419.4,1198.5 L419.6,1195.6 L419.8,1192.5 L420.0,1188.9 L420.2,1185.2 L420.4,1181.6 L420.6,1177.8 L420.8,1174.0 L421.0,1170.2 L421.2,1166.4 L421.4,1162.6 L421.6,1158.6 L421.8,1154.3 L422.1,1150.0 L422.3,1145.8 L422.5,1141.5 L422.7,1136.3 L422.9,1130.9 L423.1,1127.8 L423.3,1125.8 L423.5,1121.9 L423.7,1115.6 L423.9,1107.8 L424.1,1099.3 L424.3,1091.4 L424.6,1083.6 L424.8,1075.8 L425.0,1068.0 L425.2,1060.2 L425.4,1052.6 L425.6,1045.2 L425.8,1037.7 L426.0,1030.2 L426.2,1022.7 L426.4,1015.4 L426.6,1008.9 L426.8,1002.4 L427.0,995.8 L427.3,988.5 L427.5,980.8 L427.7,973.1 L427.9,967.0 L428.1,979.2 L428.3,991.3 L428.5,1003.5 L428.7,1015.9 L428.9,1013.7 L429.1,1002.9 L429.3,992.2 L429.5,981.5 L429.7,970.8 L430.0,960.3 L430.2,949.9 L430.4,939.5 L430.6,929.0 L430.8,918.6 L431.0,909.8 L431.2,901.3 L431.4,893.3 L431.6,887.7 L431.8,882.0 L432.0,883.0 L432.2,890.5 L432.4,898.1 L432.7,911.1 L432.9,927.9 L433.1,946.9 L433.3,969.0 L433.5,1000.5 L433.7,1053.0 L433.9,1081.6 L434.1,1081.6 L434.3,1081.7 L434.5,1081.8 L434.7,1083.4 L434.9,1085.0 L435.2,1086.3 L435.4,1087.3 L435.6,1088.3 L435.8,1088.0 L436.0,1087.3 L436.2,1086.6 L436.4,1086.6 L436.6,1086.6 L436.8,1086.7 L437.0,1086.7 L437.2,1086.8 L437.4,1086.8 L437.6,1086.8 L437.9,1086.9 L438.1,1086.9 L438.3,1086.9 L438.5,1087.4 L438.7,1116.2 L438.9,1146.0 L439.1,1182.7 L439.3,1179.4 L439.5,1176.1 L439.7,1172.8 L439.9,1168.6 L440.1,1163.8 L440.3,1159.1 L440.6,1158.7 L440.8,1158.7 L441.0,1158.7 L441.2,1158.7 L441.4,1158.8 L441.6,1158.8 L441.8,1158.8 L442.0,1158.8 L442.2,1159.1 L442.4,1159.4 L442.6,1159.7 L442.8,1160.0 L443.0,1160.3 L443.3,1160.6 L443.5,1160.9 L443.7,1165.1 L443.9,1173.2 L444.1,1187.8 L444.3,1197.8 L444.5,1204.3 L444.7,1204.6 L444.9,1204.8 L445.1,1205.1 L445.3,1205.4 L445.5,1205.7 L445.8,1206.0 L446.0,1206.2 L446.2,1206.5 L446.4,1207.1 L446.6,1207.7 L446.8,1207.9 L447.0,1208.2 L447.2,1208.4 L447.4,1208.8 L447.6,1209.1 L447.8,1209.5 L448.0,1209.9 L448.2,1210.3 L448.5,1211.3 L448.7,1212.6 L448.9,1212.4 L449.1,1212.1 L449.3,1210.9 L449.5,1209.6 L449.7,1208.4 L449.9,1206.4 L450.1,1203.8 L450.3,1201.1 L450.5,1198.5 L450.7,1195.6 L450.9,1192.5 L451.2,1188.9 L451.4,1185.2 L451.6,1181.6 L451.8,1177.8 L452.0,1174.0 L452.2,1170.2 L452.4,1166.4 L452.6,1162.6 L452.8,1158.6 L453.0,1154.3 L453.2,1150.0 L453.4,1145.8 L453.6,1141.5 L453.9,1136.3 L454.1,1130.9 L454.3,1127.8 L454.5,1125.8 L454.7,1121.9 L454.9,1115.6 L455.1,1107.8 L455.3,1099.3 L455.5,1091.4 L455.7,1083.6 L455.9,1075.8 L456.1,1068.0 L456.4,1060.2 L456.6,1052.6 L456.8,1045.2 L457.0,1037.7 L457.2,1030.2 L457.4,1022.7 L457.6,1015.4 L457.8,1008.9 L458.0,1002.4 L458.2,995.8 L458.4,988.5 L458.6,980.8 L458.8,973.1 L459.1,967.0 L459.3,979.2 L459.5,991.3 L459.7,1003.5 L459.9,1015.9 L460.1,1013.7 L460.3,1002.9 L460.5,992.2 L460.7,981.5 L460.9,970.8 L461.1,960.3 L461.3,949.9 L461.5,939.5 L461.8,929.0 L462.0,918.6 L462.2,909.8 L462.4,901.3 L462.6,893.3 L462.8,887.7 L463.0,882.0 L463.2,883.0 L463.4,890.5 L463.6,898.1 L463.8,911.1 L464.0,927.9 L464.2,946.9 L464.5,969.0 L464.7,1000.5 L464.9,1053.0 L465.1,1081.6 L465.3,1081.6 L465.5,1081.7 L465.7,1081.8 L465.9,1083.4 L466.1,1085.0 L466.3,1086.3 L466.5,1087.3 L466.7,1088.3 L467.0,1088.0 L467.2,1087.3 L467.4,1086.6 L467.6,1086.6 L467.8,1086.6 L468.0,1086.7 L468.2,1086.7 L468.4,1086.8 L468.6,1086.8 L468.8,1086.8 L469.0,1086.9 L469.2,1086.9 L469.4,1086.9 L469.7,1087.4 L469.9,1116.2 L470.1,1146.0 L470.3,1182.7 L470.5,1179.4 L470.7,1176.1 L470.9,1172.8 L471.1,1168.6 L471.3,1163.8 L471.5,1159.1 L471.7,1158.7 L471.9,1158.7 L472.1,1158.7 L472.4,1158.7 L472.6,1158.8 L472.8,1158.8 L473.0,1158.8 L473.2,1158.8 L473.4,1159.1 L473.6,1159.4 L473.8,1159.7 L474.0,1160.0 L474.2,1160.3 L474.4,1160.6 L474.6,1160.9 L474.8,1165.1 L475.1,1173.2 L475.3,1187.8 L475.5,1197.8 L475.7,1204.3 L475.9,1204.6 L476.1,1204.8 L476.3,1205.1 L476.5,1205.4 L476.7,1205.7 L476.9,1206.0 L477.1,1206.2 L477.3,1206.5 L477.5,1207.1 L477.8,1207.7 L478.0,1207.9 L478.2,1208.2 L478.4,1208.4 L478.6,1208.8 L478.8,1209.1 L479.0,1209.5 L479.2,1209.9 L479.4,1210.3 L479.6,1211.3 L479.8,1212.6 L480.0,1212.4 L480.3,1212.1 L480.5,1210.9 L480.7,1209.6 L480.9,1208.4 L481.1,1206.4 L481.3,1203.8 L481.5,1201.1 L481.7,1198.5 L481.9,1195.6 L482.1,1192.5 L482.3,1188.9 L482.5,1185.2 L482.7,1181.6 L483.0,1177.8 L483.2,1174.0 L483.4,1170.2 L483.6,1166.4 L483.8,1162.6 L484.0,1158.6 L484.2,1154.3 L484.4,1150.0 L484.6,1145.8 L484.8,1141.5 L485.0,1136.3 L485.2,1130.9 L485.4,1127.8 L485.7,1125.8 L485.9,1121.9 L486.1,1115.6 L486.3,1107.8 L486.5,1099.3 L486.7,1091.4 L486.9,1083.6 L487.1,1075.8 L487.3,1068.0 L487.5,1060.2 L487.7,1052.6 L487.9,1045.2 L488.1,1037.7 L488.4,1030.2 L488.6,1022.7 L488.8,1015.4 L489.0,1008.9 L489.2,1002.4 L489.4,995.8 L489.6,988.5 L489.8,980.8 L490.0,973.1 L490.2,967.0 L490.4,979.2 L490.6,991.3 L490.9,1003.5 L491.1,1015.9 L491.3,1013.7 L491.5,1002.9 L491.7,992.2 L491.9,981.5 L492.1,970.8 L492.3,960.3 L492.5,949.9 L492.7,939.5 L492.9,929.0 L493.1,918.6 L493.3,909.8 L493.6,901.3 L493.8,893.3 L494.0,887.7 L494.2,882.0 L494.4,883.0 L494.6,890.5 L494.8,898.1 L495.0,911.1 L495.2,927.9 L495.4,946.9 L495.6,969.0 L495.8,1000.5 L496.0,1053.0 L496.3,1081.6 L496.5,1081.6 L496.7,1081.7 L496.9,1081.8 L497.1,1083.4 L497.3,1085.0 L497.5,1086.3 L497.7,1087.3 L497.9,1088.3 L498.1,1088.0 L498.3,1087.3 L498.5,1086.6 L498.7,1086.6 L499.0,1086.6 L499.2,1086.7 L499.4,1086.7 L499.6,1086.8 L499.8,1086.8 L500.0,1086.8 L500.2,1086.9 L500.4,1086.9 L500.6,1086.9 L500.8,1087.4 L501.0,1116.2 L501.2,1146.0 L501.5,1182.7 L501.7,1179.4 L501.9,1176.1 L502.1,1172.8 L502.3,1168.6 L502.5,1163.8 L502.7,1159.1 L502.9,1158.7 L503.1,1158.7 L503.3,1158.7 L503.5,1158.7 L503.7,1158.8 L503.9,1158.8 L504.2,1158.8 L504.4,1158.8 L504.6,1159.1 L504.8,1159.4 L505.0,1159.7 L505.2,1160.0 L505.4,1160.3 L505.6,1160.6 L505.8,1160.9 L506.0,1165.1 L506.2,1173.2 L506.4,1187.8 L506.6,1197.8 L506.9,1204.3 L507.1,1204.6 L507.3,1204.8 L507.5,1205.1 L507.7,1205.4 L507.9,1205.7 L508.1,1206.0 L508.3,1206.2 L508.5,1206.5 L508.7,1207.1 L508.9,1207.7 L509.1,1207.9 L509.3,1208.2 L509.6,1208.4 L509.8,1208.8 L510.0,1209.1 L510.2,1209.5 L510.4,1209.9 L510.6,1210.3 L510.8,1211.3 L511.0,1212.6 L511.2,1212.4 L511.4,1212.1 L511.6,1210.9 L511.8,1209.6 L512.1,1208.4 L512.3,1206.4 L512.5,1203.8 L512.7,1201.1 L512.9,1198.5 L513.1,1195.6 L513.3,1192.5 L513.5,1188.9 L513.7,1185.2 L513.9,1181.6 L514.1,1177.8 L514.3,1174.0 L514.5,1170.2 L514.8,1166.4 L515.0,1162.6 L515.2,1158.6 L515.4,1154.3 L515.6,1150.0 L515.8,1145.8 L516.0,1141.5 L516.2,1136.3 L516.4,1130.9 L516.6,1127.8 L516.8,1125.8 L517.0,1121.9 L517.2,1115.6 L517.5,1107.8 L517.7,1099.3 L517.9,1091.4 L518.1,1083.6 L518.3,1075.8 L518.5,1068.0 L518.7,1060.2 L518.9,1052.6 L519.1,1045.2 L519.3,1037.7 L519.5,1030.2 L519.7,1022.7 L519.9,1015.4 L520.2,1008.9 L520.4,1002.4 L520.6,995.8 L520.8,988.5 L521.0,980.8 L521.2,973.1 L521.4,967.0 L521.6,979.2 L521.8,991.3 L522.0,1003.5 L522.2,1015.9 L522.4,1013.7 L522.7,1002.9 L522.9,992.2 L523.1,981.5 L523.3,970.8 L523.5,960.3 L523.7,949.9 L523.9,939.5 L524.1,929.0 L524.3,918.6 L524.5,909.8 L524.7,901.3 L524.9,893.3 L525.1,887.7 L525.4,882.0 L525.6,883.0 L525.8,890.5 L526.0,898.1 L526.2,911.1 L526.4,927.9 L526.6,946.9 L526.8,969.0 L527.0,1000.5 L527.2,1053.0 L527.4,1081.6 L527.6,1081.6 L527.8,1081.7 L528.1,1081.8 L528.3,1083.4 L528.5,1085.0 L528.7,1086.3 L528.9,1087.3 L529.1,1088.3 L529.3,1088.0 L529.5,1087.3 L529.7,1086.6 L529.9,1086.6 L530.1,1086.6 L530.3,1086.7 L530.5,1086.7 L530.8,1086.8 L531.0,1086.8 L531.2,1086.8 L531.4,1086.9 L531.6,1086.9 L531.8,1086.9 L532.0,1087.4 L532.2,1116.2 L532.4,1146.0 L532.6,1182.7 L532.8,1179.4 L533.0,1176.1 L533.3,1172.8 L533.5,1168.6 L533.7,1163.8 L533.9,1159.1 L534.1,1158.7 L534.3,1158.7 L534.5,1158.7 L534.7,1158.7 L534.9,1158.8 L535.1,1158.8 L535.3,1158.8 L535.5,1158.8 L535.7,1159.1 L536.0,1159.4 L536.2,1159.7 L536.4,1160.0 L536.6,1160.3 L536.8,1160.6 L537.0,1160.9 L537.2,1165.1 L537.4,1173.2 L537.6,1187.8 L537.8,1197.8 L538.0,1204.3 L538.2,1204.6 L538.4,1204.8 L538.7,1205.1 L538.9,1205.4 L539.1,1205.7 L539.3,1206.0 L539.5,1206.2 L539.7,1206.5 L539.9,1207.1 L540.1,1207.7 L540.3,1207.9 L540.5,1208.2 L540.7,1208.4 L540.9,1208.8 L541.1,1209.1 L541.4,1209.5 L541.6,1209.9 L541.8,1210.3 L542.0,1211.3 L542.2,1212.6 L542.4,1212.4 L542.6,1212.1 L542.8,1210.9 L543.0,1209.6 L543.2,1208.4 L543.4,1206.4 L543.6,1203.8 L543.9,1201.1 L544.1,1198.5 L544.3,1195.6 L544.5,1192.5 L544.7,1188.9 L544.9,1185.2 L545.1,1181.6 L545.3,1177.8 L545.5,1174.0 L545.7,1170.2 L545.9,1166.4 L546.1,1162.6 L546.3,1158.6 L546.6,1154.3 L546.8,1150.0 L547.0,1145.8 L547.2,1141.5 L547.4,1136.3 L547.6,1130.9 L547.8,1127.8 L548.0,1125.8 L548.2,1121.9 L548.4,1115.6 L548.6,1107.8 L548.8,1099.3 L549.0,1091.4 L549.3,1083.6 L549.5,1075.8 L549.7,1068.0 L549.9,1060.2 L550.1,1052.6 L550.3,1045.2 L550.5,1037.7 L550.7,1030.2 L550.9,1022.7 L551.1,1015.4 L551.3,1008.9 L551.5,1002.4 L551.7,995.8 L552.0,988.5 L552.2,980.8 L552.4,973.1 L552.6,967.0 L552.8,979.2 L553.0,991.3 L553.2,1003.5 L553.4,1015.9 L553.6,1013.7 L553.8,1002.9 L554.0,992.2 L554.2,981.5 L554.5,970.8 L554.7,960.3 L554.9,949.9 L555.1,939.5 L555.3,929.0 L555.5,918.6 L555.7,909.8 L555.9,901.3 L556.1,893.3 L556.3,887.7 L556.5,882.0 L556.7,883.0 L556.9,890.5 L557.2,898.1 L557.4,911.1 L557.6,927.9 L557.8,946.9 L558.0,969.0 L558.2,1000.5 L558.4,1053.0 L558.6,1081.6 L558.8,1081.6 L559.0,1081.7 L559.2,1081.8 L559.4,1083.4 L559.6,1085.0 L559.9,1086.3 L560.1,1087.3 L560.3,1088.3 L560.5,1088.0 L560.7,1087.3 L560.9,1086.6 L561.1,1086.6 L561.3,1086.6 L561.5,1086.7 L561.7,1086.7 L561.9,1086.8 L562.1,1086.8 L562.3,1086.8 L562.6,1086.9 L562.8,1086.9 L563.0,1086.9 L563.2,1087.4 L563.4,1116.2 L563.6,1146.0 L563.8,1182.7 L564.0,1179.4 L564.2,1176.1 L564.4,1172.8 L564.6,1168.6 L564.8,1163.8 L565.1,1159.1 L565.3,1158.7 L565.5,1158.7 L565.7,1158.7 L565.9,1158.7 L566.1,1158.8 L566.3,1158.8 L566.5,1158.8 L566.7,1158.8 L566.9,1159.1 L567.1,1159.4 L567.3,1159.7 L567.5,1160.0 L567.8,1160.3 L568.0,1160.6 L568.2,1160.9 L568.4,1165.1 L568.6,1173.2 L568.8,1187.8 L569.0,1197.8 L569.2,1204.3 L569.4,1204.6 L569.6,1204.8 L569.8,1205.1 L570.0,1205.4 L570.2,1205.7 L570.5,1206.0 L570.7,1206.2 L570.9,1206.5 L571.1,1207.1 L571.3,1207.7 L571.5,1207.9 L571.7,1208.2 L571.9,1208.4 L572.1,1208.8 L572.3,1209.1 L572.5,1209.5 L572.7,1209.9 L572.9,1210.3 L573.2,1211.3 L573.4,1212.6 L573.6,1212.4 L573.8,1212.1 L574.0,1210.9 L574.2,1209.6 L574.4,1208.4 L574.6,1206.4 L574.8,1203.8 L575.0,1201.1 L575.2,1198.5 L575.4,1195.6 L575.7,1192.5 L575.9,1188.9 L576.1,1185.2 L576.3,1181.6 L576.5,1177.8 L576.7,1174.0 L576.9,1170.2 L577.1,1166.4 L577.3,1162.6 L577.5,1158.6 L577.7,1154.3 L577.9,1150.0 L578.1,1145.8 L578.4,1141.5 L578.6,1136.3 L578.8,1130.9 L579.0,1127.8 L579.2,1125.8 L579.4,1121.9 L579.6,1115.6 L579.8,1107.8 L580.0,1099.3 L580.2,1091.4 L580.4,1083.6 L580.6,1075.8 L580.8,1068.0 L581.1,1060.2 L581.3,1052.6 L581.5,1045.2 L581.7,1037.7 L581.9,1030.2 L582.1,1022.7 L582.3,1015.4 L582.5,1008.9 L582.7,1002.4 L582.9,995.8 L583.1,988.5 L583.3,980.8 L583.5,973.1 L583.8,967.0 L584.0,979.2 L584.2,991.3 L584.4,1003.5 L584.6,1015.9 L584.8,1013.7 L585.0,1002.9 L585.2,992.2 L585.4,981.5 L585.6,970.8 L585.8,960.3 L586.0,949.9 L586.3,939.5 L586.5,929.0 L586.7,918.6 L586.9,909.8 L587.1,901.3 L587.3,893.3 L587.5,887.7 L587.7,882.0 L587.9,883.0 L588.1,890.5 L588.3,898.1 L588.5,911.1 L588.7,927.9 L589.0,946.9 L589.2,969.0 L589.4,1000.5 L589.6,1053.0 L589.8,1081.6 L590.0,1081.6 L590.2,1081.7 L590.4,1081.8 L590.6,1083.4 L590.8,1085.0 L591.0,1086.3 L591.2,1087.3 L591.4,1088.3 L591.7,1088.0 L591.9,1087.3 L592.1,1086.6 L592.3,1086.6 L592.5,1086.6 L592.7,1086.7 L592.9,1086.7 L593.1,1086.8 L593.3,1086.8 L593.5,1086.8 L593.7,1086.9 L593.9,1086.9 L594.1,1086.9 L594.4,1087.4 L594.6,1116.2 L594.8,1146.0 L595.0,1182.7 L595.2,1179.4 L595.4,1176.1 L595.6,1172.8 L595.8,1168.6 L596.0,1163.8 L596.2,1159.1 L596.4,1158.7 L596.6,1158.7 L596.9,1158.7 L597.1,1158.7 L597.3,1158.8 L597.5,1158.8 L597.7,1158.8 L597.9,1158.8 L598.1,1159.1 L598.3,1159.4 L598.5,1159.7 L598.7,1160.0 L598.9,1160.3 L599.1,1160.6 L599.3,1160.9 L599.6,1165.1 L599.8,1173.2 L600.0,1187.8 L600.2,1197.8 L600.4,1204.3 L600.6,1204.6 L600.8,1204.8 L601.0,1205.1 L601.2,1205.4 L601.4,1205.7 L601.6,1206.0 L601.8,1206.2 L602.0,1206.5 L602.3,1207.1 L602.5,1207.7 L602.7,1207.9 L602.9,1208.2 L603.1,1208.4 L603.3,1208.8 L603.5,1209.1 L603.7,1209.5 L603.9,1209.9 L604.1,1210.3 L604.3,1211.3 L604.5,1212.6 L604.7,1212.4 L605.0,1212.1 L605.2,1210.9 L605.4,1209.6 L605.6,1208.4 L605.8,1206.4 L606.0,1203.8 L606.2,1201.1 L606.4,1198.5 L606.6,1195.6 L606.8,1192.5 L607.0,1188.9 L607.2,1185.2 L607.4,1181.6 L607.7,1177.8 L607.9,1174.0 L608.1,1170.2 L608.3,1166.4 L608.5,1162.6 L608.7,1158.6 L608.9,1154.3 L609.1,1150.0 L609.3,1145.8 L609.5,1141.5 L609.7,1136.3 L609.9,1130.9 L610.2,1127.8 L610.4,1125.8 L610.6,1121.9 L610.8,1115.6 L611.0,1107.8 L611.2,1099.3 L611.4,1091.4 L611.6,1083.6 L611.8,1075.8 L612.0,1068.0 L612.2,1060.2 L612.4,1052.6 L612.6,1045.2 L612.9,1037.7 L613.1,1030.2 L613.3,1022.7 L613.5,1015.4 L613.7,1008.9 L613.9,1002.4 L614.1,995.8 L614.3,988.5 L614.5,980.8 L614.7,973.1 L614.9,967.0 L615.1,979.2 L615.3,991.3 L615.6,1003.5 L615.8,1015.9 L616.0,1013.7 L616.2,1002.9 L616.4,992.2 L616.6,981.5 L616.8,970.8 L617.0,960.3 L617.2,949.9 L617.4,939.5 L617.6,929.0 L617.8,918.6 L618.0,909.8 L618.3,901.3 L618.5,893.3 L618.7,887.7 L618.9,882.0 L619.1,883.0 L619.3,890.5 L619.5,898.1 L619.7,911.1 L619.9,927.9 L620.1,946.9 L620.3,969.0 L620.5,1000.5 L620.8,1053.0 L621.0,1081.6 L621.2,1081.6 L621.4,1081.7 L621.6,1081.8 L621.8,1083.4 L622.0,1085.0 L622.2,1086.3 L622.4,1087.3 L622.6,1088.3 L622.8,1088.0 L623.0,1087.3 L623.2,1086.6 L623.5,1086.6 L623.7,1086.6 L623.9,1086.7 L624.1,1086.7 L624.3,1086.8 L624.5,1086.8 L624.7,1086.8 L624.9,1086.9 L625.1,1086.9 L625.3,1086.9 L625.5,1087.4 L625.7,1116.2 L625.9,1146.0 L626.2,1182.7 L626.4,1179.4 L626.6,1176.1 L626.8,1172.8 L627.0,1168.6 L627.2,1163.8 L627.4,1159.1 L627.6,1158.7 L627.8,1158.7 L628.0,1158.7 L628.2,1158.7 L628.4,1158.8 L628.6,1158.8 L628.9,1158.8 L629.1,1158.8 L629.3,1159.1 L629.5,1159.4 L629.7,1159.7 L629.9,1160.0 L630.1,1160.3 L630.3,1160.6 L630.5,1160.9 L630.7,1165.1 L630.9,1173.2 L631.1,1187.8 L631.4,1197.8 L631.6,1204.3 L631.8,1204.6 L632.0,1204.8 L632.2,1205.1 L632.4,1205.4 L632.6,1205.7 L632.8,1206.0 L633.0,1206.2 L633.2,1206.5 L633.4,1207.1 L633.6,1207.7 L633.8,1207.9 L634.1,1208.2 L634.3,1208.4 L634.5,1208.8 L634.7,1209.1 L634.9,1209.5 L635.1,1209.9 L635.3,1210.3 L635.5,1211.3 L635.7,1212.6 L635.9,1212.4 L636.1,1212.1 L636.3,1210.9 L636.5,1209.6 L636.8,1208.4 L637.0,1206.4 L637.2,1203.8 L637.4,1201.1 L637.6,1198.5 L637.8,1195.6 L638.0,1192.5 L638.2,1188.9 L638.4,1185.2 L638.6,1181.6 L638.8,1177.8 L639.0,1174.0 L639.2,1170.2 L639.5,1166.4 L639.7,1162.6 L639.9,1158.6 L640.1,1154.3 L640.3,1150.0 L640.5,1145.8 L640.7,1141.5 L640.9,1136.3 L641.1,1130.9 L641.3,1127.8 L641.5,1125.8 L641.7,1121.9 L642.0,1115.6 L642.2,1107.8 L642.4,1099.3 L642.6,1091.4 L642.8,1083.6 L643.0,1075.8 L643.2,1068.0 L643.4,1060.2 L643.6,1052.6 L643.8,1045.2 L644.0,1037.7 L644.2,1030.2 L644.4,1022.7 L644.7,1015.4 L644.9,1008.9 L645.1,1002.4 L645.3,995.8 L645.5,988.5 L645.7,980.8 L645.9,973.1 L646.1,967.0 L646.3,979.2 L646.5,991.3 L646.7,1003.5 L646.9,1015.9 L647.1,1013.7 L647.4,1002.9 L647.6,992.2 L647.8,981.5 L648.0,970.8 L648.2,960.3 L648.4,949.9 L648.6,939.5 L648.8,929.0 L649.0,918.6 L649.2,909.8 L649.4,901.3 L649.6,893.3 L649.8,887.7 L650.1,882.0 L650.3,883.0 L650.5,890.5 L650.7,898.1 L650.9,911.1 L651.1,927.9 L651.3,946.9 L651.5,969.0 L651.7,1000.5 L651.9,1053.0 L652.1,1081.6 L652.3,1081.6 L652.6,1081.7 L652.8,1081.8 L653.0,1083.4 L653.2,1085.0 L653.4,1086.3 L653.6,1087.3 L653.8,1088.3 L654.0,1088.0 L654.2,1087.3 L654.4,1086.6 L654.6,1086.6 L654.8,1086.6 L655.0,1086.7 L655.3,1086.7 L655.5,1086.8 L655.7,1086.8 L655.9,1086.8 L656.1,1086.9 L656.3,1086.9 L656.5,1086.9 L656.7,1087.4 L656.9,1116.2 L657.1,1146.0 L657.3,1182.7 L657.5,1179.4 L657.7,1176.1 L658.0,1172.8 L658.2,1168.6 L658.4,1163.8 L658.6,1159.1 L658.8,1158.7 L659.0,1158.7 L659.2,1158.7 L659.4,1158.7 L659.6,1158.8 L659.8,1158.8 L660.0,1158.8 L660.2,1158.8 L660.4,1159.1 L660.7,1159.4 L660.9,1159.7 L661.1,1160.0 L661.3,1160.3 L661.5,1160.6 L661.7,1160.9 L661.9,1165.1 L662.1,1173.2 L662.3,1187.8 L662.5,1197.8 L662.7,1204.3 L662.9,1204.6 L663.2,1204.8 L663.4,1205.1 L663.6,1205.4 L663.8,1205.7 L664.0,1206.0 L664.2,1206.2 L664.4,1206.5 L664.6,1207.1 L664.8,1207.7 L665.0,1207.9 L665.2,1208.2 L665.4,1208.4 L665.6,1208.8 L665.9,1209.1 L666.1,1209.5 L666.3,1209.9 L666.5,1210.3 L666.7,1211.3 L666.9,1212.6 L667.1,1212.4" fill="none" stroke="#000000" stroke-width="3.3" stroke-linejoin="round"/>
<path d="M147.5,1228.4 L269.6,1227.7 L273.8,1217.5 L275.8,1152.3 L276.9,1097.9 L277.4,1141.4 L278.4,1227.3 L282.6,1227.7 L292.8,1227.5 L293.9,1219.1 L295.0,1206.7 L296.1,1190.1 L297.2,1173.4 L298.3,1156.8 L299.5,1136.0 L300.6,1119.4 L301.7,1104.4 L302.8,1094.5 L303.9,1084.5 L305.0,1077.0 L306.1,1071.2 L306.7,1067.0 L307.2,1070.4 L307.8,1086.2 L308.3,1119.4 L309.1,1161.0 L309.8,1194.2 L310.4,1219.1 L310.9,1228.3 L313.8,1228.3 L313.8,1228.3 L324.0,1227.5 L325.1,1219.1 L326.2,1206.7 L327.3,1190.1 L328.4,1173.4 L329.5,1156.8 L330.6,1136.0 L331.7,1119.4 L332.9,1104.4 L334.0,1094.5 L335.1,1084.5 L336.2,1077.0 L337.3,1071.2 L337.8,1067.0 L338.4,1070.4 L339.0,1086.2 L339.5,1119.4 L340.2,1161.0 L341.0,1194.2 L341.5,1219.1 L342.1,1228.3 L344.9,1228.3 L344.9,1228.3 L355.2,1227.5 L356.3,1219.1 L357.4,1206.7 L358.5,1190.1 L359.6,1173.4 L360.7,1156.8 L361.8,1136.0 L362.9,1119.4 L364.0,1104.4 L365.1,1094.5 L366.2,1084.5 L367.4,1077.0 L368.5,1071.2 L369.0,1067.0 L369.6,1070.4 L370.1,1086.2 L370.7,1119.4 L371.4,1161.0 L372.2,1194.2 L372.7,1219.1 L373.3,1228.3 L376.1,1228.3 L376.1,1228.3 L386.3,1227.5 L387.4,1219.1 L388.5,1206.7 L389.7,1190.1 L390.8,1173.4 L391.9,1156.8 L393.0,1136.0 L394.1,1119.4 L395.2,1104.4 L396.3,1094.5 L397.4,1084.5 L398.5,1077.0 L399.6,1071.2 L400.2,1067.0 L400.8,1070.4 L401.3,1086.2 L401.9,1119.4 L402.6,1161.0 L403.3,1194.2 L403.9,1219.1 L404.4,1228.3 L407.3,1228.3 L407.3,1228.3 L417.5,1227.5 L418.6,1219.1 L419.7,1206.7 L420.8,1190.1 L421.9,1173.4 L423.1,1156.8 L424.2,1136.0 L425.3,1119.4 L426.4,1104.4 L427.5,1094.5 L428.6,1084.5 L429.7,1077.0 L430.8,1071.2 L431.4,1067.0 L431.9,1070.4 L432.5,1086.2 L433.0,1119.4 L433.8,1161.0 L434.5,1194.2 L435.1,1219.1 L435.6,1228.3 L438.5,1228.3 L438.5,1228.3 L448.7,1227.5 L449.8,1219.1 L450.9,1206.7 L452.0,1190.1 L453.1,1173.4 L454.2,1156.8 L455.3,1136.0 L456.4,1119.4 L457.6,1104.4 L458.7,1094.5 L459.8,1084.5 L460.9,1077.0 L462.0,1071.2 L462.5,1067.0 L463.1,1070.4 L463.7,1086.2 L464.2,1119.4 L465.0,1161.0 L465.7,1194.2 L466.2,1219.1 L466.8,1228.3 L469.6,1228.3 L469.6,1228.3 L479.9,1227.5 L481.0,1219.1 L482.1,1206.7 L483.2,1190.1 L484.3,1173.4 L485.4,1156.8 L486.5,1136.0 L487.6,1119.4 L488.7,1104.4 L489.8,1094.5 L491.0,1084.5 L492.1,1077.0 L493.2,1071.2 L493.7,1067.0 L494.3,1070.4 L494.8,1086.2 L495.4,1119.4 L496.1,1161.0 L496.9,1194.2 L497.4,1219.1 L498.0,1228.3 L500.8,1228.3 L500.8,1228.3 L511.0,1227.5 L512.1,1219.1 L513.3,1206.7 L514.4,1190.1 L515.5,1173.4 L516.6,1156.8 L517.7,1136.0 L518.8,1119.4 L519.9,1104.4 L521.0,1094.5 L522.1,1084.5 L523.2,1077.0 L524.3,1071.2 L524.9,1067.0 L525.5,1070.4 L526.0,1086.2 L526.6,1119.4 L527.3,1161.0 L528.0,1194.2 L528.6,1219.1 L529.2,1228.3 L532.0,1228.3 L532.0,1228.3 L542.2,1227.5 L543.3,1219.1 L544.4,1206.7 L545.5,1190.1 L546.6,1173.4 L547.8,1156.8 L548.9,1136.0 L550.0,1119.4 L551.1,1104.4 L552.2,1094.5 L553.3,1084.5 L554.4,1077.0 L555.5,1071.2 L556.1,1067.0 L556.6,1070.4 L557.2,1086.2 L557.7,1119.4 L558.5,1161.0 L559.2,1194.2 L559.8,1219.1 L560.3,1228.3 L563.2,1228.3 L563.2,1228.3 L573.4,1227.5 L574.5,1219.1 L575.6,1206.7 L576.7,1190.1 L577.8,1173.4 L578.9,1156.8 L580.0,1136.0 L581.2,1119.4 L582.3,1104.4 L583.4,1094.5 L584.5,1084.5 L585.6,1077.0 L586.7,1071.2 L587.3,1067.0 L587.8,1070.4 L588.4,1086.2 L588.9,1119.4 L589.7,1161.0 L590.4,1194.2 L591.0,1219.1 L591.5,1228.3 L594.4,1228.3 L594.4,1228.3 L604.6,1227.5 L605.7,1219.1 L606.8,1206.7 L607.9,1190.1 L609.0,1173.4 L610.1,1156.8 L611.2,1136.0 L612.3,1119.4 L613.4,1104.4 L614.5,1094.5 L615.7,1084.5 L616.8,1077.0 L617.9,1071.2 L618.4,1067.0 L619.0,1070.4 L619.5,1086.2 L620.1,1119.4 L620.8,1161.0 L621.6,1194.2 L622.1,1219.1 L622.7,1228.3 L625.5,1228.3 L625.5,1228.3 L635.7,1227.5 L636.8,1219.1 L638.0,1206.7 L639.1,1190.1 L640.2,1173.4 L641.3,1156.8 L642.4,1136.0 L643.5,1119.4 L644.6,1104.4 L645.7,1094.5 L646.8,1084.5 L647.9,1077.0 L649.0,1071.2 L649.6,1067.0 L650.2,1070.4 L650.7,1086.2 L651.3,1119.4 L652.0,1161.0 L652.7,1194.2 L653.3,1219.1 L653.9,1228.3 L656.7,1228.3 L656.7,1228.3 L666.9,1227.5 L667.1,1226.1" fill="none" stroke="#cfa02a" stroke-width="3.3" stroke-linejoin="round"/>
<path d="M147.5,1227.3 L160.0,1227.3 L163.3,1227.4 L164.0,1227.8 L168.5,1225.1 L169.2,1226.4 L173.2,1222.5 L173.8,1224.8 L178.4,1221.6 L179.0,1224.2 L183.6,1221.9 L184.2,1224.4 L188.8,1221.2 L189.4,1223.9 L194.0,1219.9 L194.6,1223.1 L199.2,1218.0 L199.8,1221.9 L204.4,1214.7 L205.0,1219.9 L209.6,1210.8 L210.2,1217.5 L214.8,1207.5 L215.4,1215.5 L220.0,1203.6 L220.6,1213.0 L225.2,1198.4 L225.8,1209.8 L230.4,1190.6 L231.0,1204.9 L235.6,1180.1 L236.2,1198.5 L240.8,1167.1 L241.4,1190.4 L246.0,1151.4 L246.6,1180.7 L251.2,1135.7 L251.8,1171.0 L256.4,1116.2 L257.0,1158.8 L261.6,1088.8 L262.2,1141.8 L266.7,1052.2 L267.4,1119.2 L271.9,1019.6 L272.6,1098.9 L275.3,1058.8 L276.1,1076.2 L277.4,1141.4 L279.0,1184.9 L280.5,1189.2 L282.3,1093.5 L283.0,1152.7 L283.2,1193.4 L283.9,1192.6 L284.7,1190.1 L286.1,1185.9 L287.8,1183.4 L288.0,1185.9 L288.5,1212.5 L289.5,1213.3 L290.4,1214.2 L291.3,1218.3 L292.4,1221.6 L293.2,1225.8 L293.9,1227.5 L294.6,1226.6 L295.8,1224.1 L296.9,1220.8 L297.8,1215.8 L298.3,1210.8 L298.7,1215.0 L299.1,1210.8 L300.2,1185.9 L301.3,1161.0 L302.4,1136.0 L303.2,1115.3 L304.1,1177.6 L305.0,1136.0 L306.1,1086.2 L307.2,1049.2 L308.0,1057.1 L308.5,1069.5 L308.9,1102.8 L309.1,1156.8 L309.8,1123.6 L310.4,1102.8 L310.9,1096.1 L311.5,1094.1 L313.8,1094.1 L313.8,1094.1 L314.2,1152.7 L314.4,1193.4 L315.1,1192.6 L315.8,1190.1 L317.3,1185.9 L319.0,1183.4 L319.2,1185.9 L319.7,1212.5 L320.6,1213.3 L321.6,1214.2 L322.5,1218.3 L323.6,1221.6 L324.3,1225.8 L325.1,1227.5 L325.8,1226.6 L326.9,1224.1 L328.0,1220.8 L329.0,1215.8 L329.4,1210.8 L329.9,1215.0 L330.3,1210.8 L331.4,1185.9 L332.5,1161.0 L333.6,1136.0 L334.3,1115.3 L335.3,1177.6 L336.2,1136.0 L337.3,1086.2 L338.4,1049.2 L339.1,1057.1 L339.7,1069.5 L340.1,1102.8 L340.2,1156.8 L341.0,1123.6 L341.5,1102.8 L342.1,1096.1 L342.7,1094.1 L344.9,1094.1 L344.9,1094.1 L345.4,1152.7 L345.5,1193.4 L346.3,1192.6 L347.0,1190.1 L348.5,1185.9 L350.2,1183.4 L350.3,1185.9 L350.9,1212.5 L351.8,1213.3 L352.7,1214.2 L353.7,1218.3 L354.8,1221.6 L355.5,1225.8 L356.3,1227.5 L357.0,1226.6 L358.1,1224.1 L359.2,1220.8 L360.1,1215.8 L360.6,1210.8 L361.1,1215.0 L361.4,1210.8 L362.5,1185.9 L363.7,1161.0 L364.8,1136.0 L365.5,1115.3 L366.4,1177.6 L367.4,1136.0 L368.5,1086.2 L369.6,1049.2 L370.3,1057.1 L370.9,1069.5 L371.2,1102.8 L371.4,1156.8 L372.2,1123.6 L372.7,1102.8 L373.3,1096.1 L373.8,1094.1 L376.1,1094.1 L376.1,1094.1 L376.5,1152.7 L376.7,1193.4 L377.5,1192.6 L378.2,1190.1 L379.7,1185.9 L381.3,1183.4 L381.5,1185.9 L382.1,1212.5 L383.0,1213.3 L383.9,1214.2 L384.8,1218.3 L386.0,1221.6 L386.7,1225.8 L387.4,1227.5 L388.2,1226.6 L389.3,1224.1 L390.4,1220.8 L391.3,1215.8 L391.8,1210.8 L392.2,1215.0 L392.6,1210.8 L393.7,1185.9 L394.8,1161.0 L395.9,1136.0 L396.7,1115.3 L397.6,1177.6 L398.5,1136.0 L399.6,1086.2 L400.8,1049.2 L401.5,1057.1 L402.0,1069.5 L402.4,1102.8 L402.6,1156.8 L403.3,1123.6 L403.9,1102.8 L404.4,1096.1 L405.0,1094.1 L407.3,1094.1 L407.3,1094.1 L407.7,1152.7 L407.9,1193.4 L408.6,1192.6 L409.4,1190.1 L410.8,1185.9 L412.5,1183.4 L412.7,1185.9 L413.3,1212.5 L414.2,1213.3 L415.1,1214.2 L416.0,1218.3 L417.1,1221.6 L417.9,1225.8 L418.6,1227.5 L419.4,1226.6 L420.5,1224.1 L421.6,1220.8 L422.5,1215.8 L423.0,1210.8 L423.4,1215.0 L423.8,1210.8 L424.9,1185.9 L426.0,1161.0 L427.1,1136.0 L427.9,1115.3 L428.8,1177.6 L429.7,1136.0 L430.8,1086.2 L431.9,1049.2 L432.7,1057.1 L433.2,1069.5 L433.6,1102.8 L433.8,1156.8 L434.5,1123.6 L435.1,1102.8 L435.6,1096.1 L436.2,1094.1 L438.5,1094.1 L438.5,1094.1 L438.9,1152.7 L439.1,1193.4 L439.8,1192.6 L440.5,1190.1 L442.0,1185.9 L443.7,1183.4 L443.9,1185.9 L444.4,1212.5 L445.4,1213.3 L446.3,1214.2 L447.2,1218.3 L448.3,1221.6 L449.0,1225.8 L449.8,1227.5 L450.5,1226.6 L451.6,1224.1 L452.7,1220.8 L453.7,1215.8 L454.2,1210.8 L454.6,1215.0 L455.0,1210.8 L456.1,1185.9 L457.2,1161.0 L458.3,1136.0 L459.0,1115.3 L460.0,1177.6 L460.9,1136.0 L462.0,1086.2 L463.1,1049.2 L463.8,1057.1 L464.4,1069.5 L464.8,1102.8 L465.0,1156.8 L465.7,1123.6 L466.2,1102.8 L466.8,1096.1 L467.4,1094.1 L469.6,1094.1 L469.6,1094.1 L470.1,1152.7 L470.2,1193.4 L471.0,1192.6 L471.7,1190.1 L473.2,1185.9 L474.9,1183.4 L475.0,1185.9 L475.6,1212.5 L476.5,1213.3 L477.5,1214.2 L478.4,1218.3 L479.5,1221.6 L480.2,1225.8 L481.0,1227.5 L481.7,1226.6 L482.8,1224.1 L483.9,1220.8 L484.8,1215.8 L485.3,1210.8 L485.8,1215.0 L486.1,1210.8 L487.3,1185.9 L488.4,1161.0 L489.5,1136.0 L490.2,1115.3 L491.1,1177.6 L492.1,1136.0 L493.2,1086.2 L494.3,1049.2 L495.0,1057.1 L495.6,1069.5 L495.9,1102.8 L496.1,1156.8 L496.9,1123.6 L497.4,1102.8 L498.0,1096.1 L498.5,1094.1 L500.8,1094.1 L500.8,1094.1 L501.2,1152.7 L501.4,1193.4 L502.2,1192.6 L502.9,1190.1 L504.4,1185.9 L506.0,1183.4 L506.2,1185.9 L506.8,1212.5 L507.7,1213.3 L508.6,1214.2 L509.6,1218.3 L510.7,1221.6 L511.4,1225.8 L512.1,1227.5 L512.9,1226.6 L514.0,1224.1 L515.1,1220.8 L516.0,1215.8 L516.5,1210.8 L516.9,1215.0 L517.3,1210.8 L518.4,1185.9 L519.5,1161.0 L520.6,1136.0 L521.4,1115.3 L522.3,1177.6 L523.2,1136.0 L524.3,1086.2 L525.5,1049.2 L526.2,1057.1 L526.7,1069.5 L527.1,1102.8 L527.3,1156.8 L528.0,1123.6 L528.6,1102.8 L529.2,1096.1 L529.7,1094.1 L532.0,1094.1 L532.0,1094.1 L532.4,1152.7 L532.6,1193.4 L533.3,1192.6 L534.1,1190.1 L535.6,1185.9 L537.2,1183.4 L537.4,1185.9 L538.0,1212.5 L538.9,1213.3 L539.8,1214.2 L540.7,1218.3 L541.8,1221.6 L542.6,1225.8 L543.3,1227.5 L544.1,1226.6 L545.2,1224.1 L546.3,1220.8 L547.2,1215.8 L547.7,1210.8 L548.1,1215.0 L548.5,1210.8 L549.6,1185.9 L550.7,1161.0 L551.8,1136.0 L552.6,1115.3 L553.5,1177.6 L554.4,1136.0 L555.5,1086.2 L556.6,1049.2 L557.4,1057.1 L557.9,1069.5 L558.3,1102.8 L558.5,1156.8 L559.2,1123.6 L559.8,1102.8 L560.3,1096.1 L560.9,1094.1 L563.2,1094.1 L563.2,1094.1 L563.6,1152.7 L563.8,1193.4 L564.5,1192.6 L565.2,1190.1 L566.7,1185.9 L568.4,1183.4 L568.6,1185.9 L569.1,1212.5 L570.1,1213.3 L571.0,1214.2 L571.9,1218.3 L573.0,1221.6 L573.8,1225.8 L574.5,1227.5 L575.2,1226.6 L576.3,1224.1 L577.5,1220.8 L578.4,1215.8 L578.9,1210.8 L579.3,1215.0 L579.7,1210.8 L580.8,1185.9 L581.9,1161.0 L583.0,1136.0 L583.7,1115.3 L584.7,1177.6 L585.6,1136.0 L586.7,1086.2 L587.8,1049.2 L588.5,1057.1 L589.1,1069.5 L589.5,1102.8 L589.7,1156.8 L590.4,1123.6 L591.0,1102.8 L591.5,1096.1 L592.1,1094.1 L594.4,1094.1 L594.4,1094.1 L594.8,1152.7 L594.9,1193.4 L595.7,1192.6 L596.4,1190.1 L597.9,1185.9 L599.6,1183.4 L599.8,1185.9 L600.3,1212.5 L601.2,1213.3 L602.2,1214.2 L603.1,1218.3 L604.2,1221.6 L604.9,1225.8 L605.7,1227.5 L606.4,1226.6 L607.5,1224.1 L608.6,1220.8 L609.6,1215.8 L610.0,1210.8 L610.5,1215.0 L610.8,1210.8 L612.0,1185.9 L613.1,1161.0 L614.2,1136.0 L614.9,1115.3 L615.8,1177.6 L616.8,1136.0 L617.9,1086.2 L619.0,1049.2 L619.7,1057.1 L620.3,1069.5 L620.6,1102.8 L620.8,1156.8 L621.6,1123.6 L622.1,1102.8 L622.7,1096.1 L623.2,1094.1 L625.5,1094.1 L625.5,1094.1 L625.9,1152.7 L626.1,1193.4 L626.9,1192.6 L627.6,1190.1 L629.1,1185.9 L630.7,1183.4 L630.9,1185.9 L631.5,1212.5 L632.4,1213.3 L633.3,1214.2 L634.3,1218.3 L635.4,1221.6 L636.1,1225.8 L636.8,1227.5 L637.6,1226.6 L638.7,1224.1 L639.8,1220.8 L640.7,1215.8 L641.2,1210.8 L641.7,1215.0 L642.0,1210.8 L643.1,1185.9 L644.2,1161.0 L645.4,1136.0 L646.1,1115.3 L647.0,1177.6 L647.9,1136.0 L649.0,1086.2 L650.2,1049.2 L650.9,1057.1 L651.5,1069.5 L651.8,1102.8 L652.0,1156.8 L652.7,1123.6 L653.3,1102.8 L653.9,1096.1 L654.4,1094.1 L656.7,1094.1 L656.7,1094.1 L657.1,1152.7 L657.3,1193.4 L658.0,1192.6 L658.8,1190.1 L660.3,1185.9 L661.9,1183.4 L662.1,1185.9 L662.7,1212.5 L663.6,1213.3 L664.5,1214.2 L665.4,1218.3 L666.5,1221.6 L667.1,1224.8" fill="none" stroke="#a50d3f" stroke-width="3.3" stroke-linejoin="round"/>
<path d="M147.5,1228.4 L173.5,1227.7 L199.5,1225.8 L225.4,1222.3 L251.4,1216.4 L267.0,1211.0 L275.3,1206.7 L276.4,1224.1 L277.4,1227.7 L282.6,1227.7 L288.0,1226.6 L290.6,1225.0 L291.3,1221.6 L292.4,1219.1 L293.9,1218.3 L296.1,1217.5 L299.1,1216.7 L307.2,1216.7 L308.0,1219.1 L308.5,1228.3 L313.8,1228.3 L313.8,1228.3 L319.2,1226.6 L321.8,1225.0 L322.5,1221.6 L323.6,1219.1 L325.1,1218.3 L327.3,1217.5 L330.3,1216.7 L338.4,1216.7 L339.1,1219.1 L339.7,1228.3 L344.9,1228.3 L344.9,1228.3 L350.3,1226.6 L352.9,1225.0 L353.7,1221.6 L354.8,1219.1 L356.3,1218.3 L358.5,1217.5 L361.4,1216.7 L369.6,1216.7 L370.3,1219.1 L370.9,1228.3 L376.1,1228.3 L376.1,1228.3 L381.5,1226.6 L384.1,1225.0 L384.8,1221.6 L386.0,1219.1 L387.4,1218.3 L389.7,1217.5 L392.6,1216.7 L400.8,1216.7 L401.5,1219.1 L402.0,1228.3 L407.3,1228.3 L407.3,1228.3 L412.7,1226.6 L415.3,1225.0 L416.0,1221.6 L417.1,1219.1 L418.6,1218.3 L420.8,1217.5 L423.8,1216.7 L431.9,1216.7 L432.7,1219.1 L433.2,1228.3 L438.5,1228.3 L438.5,1228.3 L443.9,1226.6 L446.5,1225.0 L447.2,1221.6 L448.3,1219.1 L449.8,1218.3 L452.0,1217.5 L455.0,1216.7 L463.1,1216.7 L463.8,1219.1 L464.4,1228.3 L469.6,1228.3 L469.6,1228.3 L475.0,1226.6 L477.6,1225.0 L478.4,1221.6 L479.5,1219.1 L481.0,1218.3 L483.2,1217.5 L486.1,1216.7 L494.3,1216.7 L495.0,1219.1 L495.6,1228.3 L500.8,1228.3 L500.8,1228.3 L506.2,1226.6 L508.8,1225.0 L509.6,1221.6 L510.7,1219.1 L512.1,1218.3 L514.4,1217.5 L517.3,1216.7 L525.5,1216.7 L526.2,1219.1 L526.7,1228.3 L532.0,1228.3 L532.0,1228.3 L537.4,1226.6 L540.0,1225.0 L540.7,1221.6 L541.8,1219.1 L543.3,1218.3 L545.5,1217.5 L548.5,1216.7 L556.6,1216.7 L557.4,1219.1 L557.9,1228.3 L563.2,1228.3 L563.2,1228.3 L568.6,1226.6 L571.2,1225.0 L571.9,1221.6 L573.0,1219.1 L574.5,1218.3 L576.7,1217.5 L579.7,1216.7 L587.8,1216.7 L588.5,1219.1 L589.1,1228.3 L594.4,1228.3 L594.4,1228.3 L599.8,1226.6 L602.3,1225.0 L603.1,1221.6 L604.2,1219.1 L605.7,1218.3 L607.9,1217.5 L610.8,1216.7 L619.0,1216.7 L619.7,1219.1 L620.3,1228.3 L625.5,1228.3 L625.5,1228.3 L630.9,1226.6 L633.5,1225.0 L634.3,1221.6 L635.4,1219.1 L636.8,1218.3 L639.1,1217.5 L642.0,1216.7 L650.2,1216.7 L650.9,1219.1 L651.5,1228.3 L656.7,1228.3 L656.7,1228.3 L662.1,1226.6 L664.7,1225.0 L665.4,1221.6 L666.5,1219.1 L667.1,1218.8" fill="none" stroke="#22b822" stroke-width="3.3" stroke-linejoin="round"/>
<path d="M147.5,1228.4 L275.8,1227.7 L276.9,1206.7 L279.0,1121.8 L280.5,1163.2 L281.6,1206.7 L282.6,1227.7 L283.2,1222.5 L284.5,1197.5 L287.6,1207.9 L288.2,1222.5 L293.2,1228.3 L307.2,1228.3 L308.1,1222.5 L309.1,1227.5 L313.8,1228.3 L313.8,1228.3 L314.4,1222.5 L315.7,1197.5 L318.8,1207.9 L319.4,1222.5 L324.3,1228.3 L338.4,1228.3 L339.3,1222.5 L340.2,1227.5 L344.9,1228.3 L344.9,1228.3 L345.5,1222.5 L346.8,1197.5 L350.0,1207.9 L350.5,1222.5 L355.5,1228.3 L369.6,1228.3 L370.5,1222.5 L371.4,1227.5 L376.1,1228.3 L376.1,1228.3 L376.7,1222.5 L378.0,1197.5 L381.2,1207.9 L381.7,1222.5 L386.7,1228.3 L400.8,1228.3 L401.7,1222.5 L402.6,1227.5 L407.3,1228.3 L407.3,1228.3 L407.9,1222.5 L409.2,1197.5 L412.3,1207.9 L412.9,1222.5 L417.9,1228.3 L431.9,1228.3 L432.9,1222.5 L433.8,1227.5 L438.5,1228.3 L438.5,1228.3 L439.1,1222.5 L440.4,1197.5 L443.5,1207.9 L444.1,1222.5 L449.0,1228.3 L463.1,1228.3 L464.0,1222.5 L465.0,1227.5 L469.6,1228.3 L469.6,1228.3 L470.2,1222.5 L471.5,1197.5 L474.7,1207.9 L475.2,1222.5 L480.2,1228.3 L494.3,1228.3 L495.2,1222.5 L496.1,1227.5 L500.8,1228.3 L500.8,1228.3 L501.4,1222.5 L502.7,1197.5 L505.9,1207.9 L506.4,1222.5 L511.4,1228.3 L525.5,1228.3 L526.4,1222.5 L527.3,1227.5 L532.0,1228.3 L532.0,1228.3 L532.6,1222.5 L533.9,1197.5 L537.0,1207.9 L537.6,1222.5 L542.6,1228.3 L556.6,1228.3 L557.6,1222.5 L558.5,1227.5 L563.2,1228.3 L563.2,1228.3 L563.8,1222.5 L565.1,1197.5 L568.2,1207.9 L568.8,1222.5 L573.8,1228.3 L587.8,1228.3 L588.7,1222.5 L589.7,1227.5 L594.4,1228.3 L594.4,1228.3 L594.9,1222.5 L596.2,1197.5 L599.4,1207.9 L599.9,1222.5 L604.9,1228.3 L619.0,1228.3 L619.9,1222.5 L620.8,1227.5 L625.5,1228.3 L625.5,1228.3 L626.1,1222.5 L627.4,1197.5 L630.6,1207.9 L631.1,1222.5 L636.1,1228.3 L650.2,1228.3 L651.1,1222.5 L652.0,1227.5 L656.7,1228.3 L656.7,1228.3 L657.3,1222.5 L658.6,1197.5 L661.7,1207.9 L662.3,1222.5 L667.1,1228.1" fill="none" stroke="#0c0c96" stroke-width="3.3" stroke-linejoin="round"/>
<path d="M147.5,1228.4 L275.3,1228.4 L275.8,1219.7 L277.4,1219.7 L277.9,1228.4 L282.6,1228.4 L283.9,1228.3 L308.0,1228.3 L308.5,1221.6 L313.8,1221.6 L313.8,1221.6 L315.1,1228.3 L339.1,1228.3 L339.7,1221.6 L344.9,1221.6 L344.9,1221.6 L346.3,1228.3 L370.3,1228.3 L370.9,1221.6 L376.1,1221.6 L376.1,1221.6 L377.5,1228.3 L401.5,1228.3 L402.0,1221.6 L407.3,1221.6 L407.3,1221.6 L408.6,1228.3 L432.7,1228.3 L433.2,1221.6 L438.5,1221.6 L438.5,1221.6 L439.8,1228.3 L463.8,1228.3 L464.4,1221.6 L469.6,1221.6 L469.6,1221.6 L471.0,1228.3 L495.0,1228.3 L495.6,1221.6 L500.8,1221.6 L500.8,1221.6 L502.2,1228.3 L526.2,1228.3 L526.7,1221.6 L532.0,1221.6 L532.0,1221.6 L533.3,1228.3 L557.4,1228.3 L557.9,1221.6 L563.2,1221.6 L563.2,1221.6 L564.5,1228.3 L588.5,1228.3 L589.1,1221.6 L594.4,1221.6 L594.4,1221.6 L595.7,1228.3 L619.7,1228.3 L620.3,1221.6 L625.5,1221.6 L625.5,1221.6 L626.9,1228.3 L650.9,1228.3 L651.5,1221.6 L656.7,1221.6 L656.7,1221.6 L658.0,1228.3 L667.1,1228.3" fill="none" stroke="#a6a6a6" stroke-width="3.3" stroke-linejoin="round"/>
<line x1="137.0" y1="1228.4" x2="147.5" y2="1228.4" stroke="#000" stroke-width="2.6" stroke-linecap="butt"/>
<text x="117.5" y="1241.0" font-size="37" text-anchor="end" fill="#000" >0</text>
<line x1="137.0" y1="1141.4" x2="147.5" y2="1141.4" stroke="#000" stroke-width="2.6" stroke-linecap="butt"/>
<text x="117.5" y="1154.0" font-size="37" text-anchor="end" fill="#000" >40</text>
<line x1="137.0" y1="1054.4" x2="147.5" y2="1054.4" stroke="#000" stroke-width="2.6" stroke-linecap="butt"/>
<text x="117.5" y="1067.0" font-size="37" text-anchor="end" fill="#000" >80</text>
<line x1="137.0" y1="967.4" x2="147.5" y2="967.4" stroke="#000" stroke-width="2.6" stroke-linecap="butt"/>
<text x="117.5" y="980.0" font-size="37" text-anchor="end" fill="#000" >120</text>
<line x1="137.0" y1="880.4" x2="147.5" y2="880.4" stroke="#000" stroke-width="2.6" stroke-linecap="butt"/>
<text x="117.5" y="893.0" font-size="37" text-anchor="end" fill="#000" >160</text>
<line x1="147.5" y1="1228.4" x2="147.5" y2="1238.9" stroke="#000" stroke-width="2.6" stroke-linecap="butt"/>
<text x="147.5" y="1282.6" font-size="37" text-anchor="middle" fill="#000" >0</text>
<line x1="277.4" y1="1228.4" x2="277.4" y2="1238.9" stroke="#000" stroke-width="2.6" stroke-linecap="butt"/>
<text x="277.4" y="1282.6" font-size="37" text-anchor="middle" fill="#000" >25</text>
<line x1="407.3" y1="1228.4" x2="407.3" y2="1238.9" stroke="#000" stroke-width="2.6" stroke-linecap="butt"/>
<text x="407.3" y="1282.6" font-size="37" text-anchor="middle" fill="#000" >50</text>
<line x1="537.2" y1="1228.4" x2="537.2" y2="1238.9" stroke="#000" stroke-width="2.6" stroke-linecap="butt"/>
<text x="537.2" y="1282.6" font-size="37" text-anchor="middle" fill="#000" >75</text>
<line x1="667.1" y1="1228.4" x2="667.1" y2="1238.9" stroke="#000" stroke-width="2.6" stroke-linecap="butt"/>
<text x="667.1" y="1282.6" font-size="37" text-anchor="middle" fill="#000" >100</text>
<text x="407.3" y="1325.5" font-size="45" text-anchor="middle" fill="#000" >time [days]</text>
<text transform="translate(42.9,1048.1) rotate(-90)" x="0" y="0" font-size="45" text-anchor="middle" textLength="310.20000000000005" lengthAdjust="spacingAndGlyphs">worms [# x 10<tspan font-size="30.6" dy="-13.0">3</tspan><tspan dy="13.0">]</tspan></text>
<text x="8.0" y="1424.3" font-size="82" text-anchor="start" fill="#000" >E</text>
<text x="263.0" y="1405.3" font-size="46" text-anchor="start" fill="#000" >simulation</text>
<text x="143.0" y="1461.1" font-size="46" text-anchor="start" fill="#000" >cull: <tspan class="rd">80%</tspan> 24h dauer &amp; larva</text>
<text x="143.0" y="1517.0" font-size="46" text-anchor="start" fill="#000" >feed: 10 mg 24h</text>
<path d="M134.0,1566.0 H144.5 V1914.0 H664.7" fill="none" stroke="#000" stroke-width="2.6"/>
<path d="M144.5,1912.9 L155.9,1912.9 L160.0,1911.8 L160.6,1912.6 L165.2,1907.9 L165.8,1910.0 L170.4,1907.0 L171.0,1909.4 L175.6,1908.3 L176.2,1910.3 L180.8,1908.8 L181.4,1910.6 L186.0,1907.9 L186.6,1910.0 L191.2,1905.3 L191.8,1908.3 L196.4,1903.6 L197.0,1907.1 L201.6,1901.8 L202.2,1906.0 L206.8,1899.0 L207.4,1904.1 L212.0,1898.1 L212.6,1903.5 L217.2,1896.2 L217.8,1902.2 L222.4,1895.3 L223.1,1901.7 L227.6,1892.5 L228.3,1899.8 L232.8,1889.6 L233.5,1897.9 L238.0,1886.8 L238.7,1896.1 L243.2,1882.9 L243.9,1893.5 L248.4,1875.7 L249.1,1888.7 L253.6,1873.5 L254.3,1887.3 L258.8,1865.5 L259.5,1882.0 L264.0,1857.9 L264.7,1877.0 L269.2,1849.4 L269.9,1871.4 L274.4,1839.8 L275.1,1865.0 L279.6,1831.3 L280.3,1859.5 L284.8,1820.9 L285.5,1852.6 L290.1,1807.9 L290.7,1843.9 L295.3,1790.9 L295.9,1832.8 L300.5,1770.0 L301.1,1819.0 L305.7,1749.4 L306.3,1805.3 L310.9,1728.7 L311.5,1791.7 L316.1,1704.1 L316.7,1775.5 L321.3,1673.0 L321.9,1754.9 L326.7,1638.0 L327.4,1731.8 L331.4,1600.4 L332.0,1707.0 L333.9,1610.6 L334.9,1788.9 L336.5,1783.5 L339.6,1722.6 L342.2,1709.5 L343.7,1761.8 L345.3,1827.0 L346.9,1866.2 L349.5,1837.9 L352.6,1794.4 L355.7,1761.8 L358.8,1729.1 L361.7,1692.2 L363.0,1740.0 L367.1,1622.5 L368.2,1707.4 L372.9,1690.0 L373.9,1766.1 L377.5,1746.5 L379.1,1805.2 L382.8,1798.7 L384.3,1844.4 L388.0,1831.3 L389.5,1861.8 L392.1,1816.1 L393.7,1831.3 L397.3,1766.1 L398.9,1809.6 L402.5,1707.4 L404.1,1761.8 L404.6,1705.4 L405.1,1781.0 L405.9,1761.9 L407.2,1730.0 L408.5,1698.0 L409.2,1684.3 L409.8,1739.6 L410.5,1793.2 L411.1,1783.3 L412.4,1757.3 L413.7,1725.7 L414.7,1712.0 L415.0,1740.7 L415.6,1805.8 L416.3,1800.8 L417.6,1780.3 L418.9,1756.5 L420.2,1736.8 L420.2,1743.9 L420.7,1822.9 L421.5,1818.4 L422.8,1806.0 L424.1,1791.7 L425.4,1778.2 L425.9,1846.4 L426.7,1841.9 L428.0,1834.1 L429.3,1825.9 L430.6,1817.6 L430.6,1821.7 L431.2,1866.7 L431.9,1864.0 L433.2,1858.8 L434.5,1853.1 L435.8,1846.4 L436.4,1876.6 L437.1,1873.2 L438.4,1866.6 L439.7,1859.4 L441.0,1851.4 L441.7,1870.6 L442.3,1864.8 L443.6,1852.5 L444.9,1839.7 L446.2,1826.9 L446.9,1849.7 L447.5,1841.2 L448.8,1822.2 L450.1,1803.3 L451.4,1784.5 L452.1,1826.7 L452.7,1816.1 L454.0,1793.3 L455.3,1771.1 L456.5,1751.1 L456.6,1759.4 L457.3,1813.1 L457.9,1803.3 L459.2,1783.2 L460.5,1763.5 L461.8,1744.1 L461.8,1749.9 L462.4,1816.9 L463.1,1808.0 L464.4,1791.1 L465.7,1774.1 L467.0,1758.2 L467.7,1834.2 L468.3,1826.1 L469.6,1812.5 L470.9,1797.6 L472.1,1783.5 L472.2,1791.8 L472.9,1845.2 L473.5,1841.0 L474.8,1832.5 L476.1,1822.8 L477.4,1812.9 L477.5,1812.1 L478.1,1860.1 L478.7,1856.6 L480.0,1849.4 L481.3,1842.3 L482.6,1834.1 L482.7,1833.7 L483.4,1869.7 L483.9,1866.7 L485.2,1859.6 L486.5,1852.3 L487.8,1844.0 L488.6,1869.7 L489.1,1865.9 L490.4,1856.6 L491.7,1847.2 L493.0,1837.6 L493.8,1861.8 L494.3,1856.0 L495.6,1842.3 L496.9,1828.6 L498.2,1815.1 L498.9,1847.5 L499.5,1839.2 L500.8,1822.1 L502.1,1805.2 L503.4,1788.3 L504.2,1833.3 L504.7,1824.8 L506.0,1805.5 L507.3,1786.8 L508.6,1768.4 L509.3,1826.0 L509.9,1816.2 L511.2,1798.0 L512.5,1780.4 L513.8,1761.8 L514.5,1826.6 L515.1,1818.8 L516.4,1802.5 L517.7,1786.2 L519.0,1768.9 L519.7,1835.2 L520.3,1828.8 L521.6,1815.5 L522.9,1801.5 L524.2,1786.9 L524.9,1846.0 L525.5,1840.7 L526.8,1829.6 L528.1,1818.2 L529.4,1806.8 L530.1,1855.6 L530.7,1851.2 L532.0,1842.1 L533.3,1832.4 L534.7,1822.4 L535.3,1865.2 L536.0,1862.8 L537.3,1858.0 L538.6,1850.0 L539.9,1842.0 L540.5,1867.7 L541.2,1862.5 L542.5,1852.5 L543.8,1842.0 L545.1,1831.5 L545.7,1858.4 L546.4,1851.0 L547.7,1836.9 L549.0,1822.7 L550.3,1808.5 L550.9,1844.4 L551.6,1835.2 L552.9,1817.6 L554.2,1800.5 L555.5,1783.4 L556.1,1832.1 L556.8,1822.2 L558.1,1803.0 L559.4,1784.7 L560.7,1766.3 L561.3,1826.3 L562.0,1817.0 L563.3,1799.0 L564.6,1781.8 L565.9,1763.3 L566.5,1829.6 L567.2,1821.9 L568.5,1806.9 L569.8,1792.4 L571.1,1777.9 L571.7,1840.8 L572.4,1835.3 L573.7,1824.7 L575.0,1814.0 L576.3,1803.3 L576.9,1854.7 L577.6,1850.9 L578.9,1843.5 L580.2,1835.5 L581.5,1827.6 L582.1,1865.9 L582.8,1862.5 L584.1,1856.0 L585.4,1848.6 L586.7,1841.3 L587.3,1869.4 L588.0,1865.1 L589.3,1856.7 L590.6,1847.7 L591.9,1838.6 L592.5,1863.8 L593.2,1857.6 L594.5,1845.6 L595.8,1833.3 L597.1,1821.1 L597.7,1851.7 L598.4,1843.3 L599.7,1827.2 L601.0,1811.4 L602.3,1795.5 L602.9,1837.7 L603.6,1827.9 L604.9,1809.3 L606.2,1791.3 L607.5,1773.2 L608.1,1828.2 L608.8,1818.4 L610.1,1799.5 L611.4,1781.4 L612.7,1763.3 L613.3,1826.9 L614.0,1818.3 L615.3,1801.8 L616.6,1785.4 L617.9,1768.9 L618.5,1834.4 L619.2,1827.9 L620.5,1815.4 L621.8,1803.0 L623.1,1790.6 L623.7,1847.8 L624.4,1843.2 L625.7,1834.4 L627.0,1825.3 L628.3,1816.1 L628.9,1861.0 L629.6,1857.5 L630.9,1850.9 L632.2,1843.6 L633.5,1836.2 L634.1,1868.8 L634.8,1865.1 L636.1,1858.0 L637.4,1850.1 L638.7,1842.1 L639.3,1867.8 L640.0,1862.5 L641.3,1852.5 L642.6,1841.9 L643.9,1831.3 L644.5,1858.2 L645.2,1850.9 L646.5,1836.9 L647.8,1822.8 L649.1,1808.7 L649.7,1844.5 L650.4,1835.4 L651.7,1817.7 L653.0,1800.5 L654.3,1783.3 L654.9,1832.0 L655.6,1822.1 L656.9,1803.0 L658.2,1784.6 L659.5,1766.3 L660.1,1826.3 L660.8,1817.0 L662.1,1799.1 L663.4,1781.9 L664.7,1764.6" fill="none" stroke="#000000" stroke-width="3.3" stroke-linejoin="round"/>
<path d="M144.5,1914.0 L330.7,1913.3 L333.3,1912.9 L334.4,1866.2 L335.9,1912.9 L344.8,1912.9 L352.6,1892.2 L363.0,1848.8 L368.2,1816.1 L373.4,1827.0 L378.6,1848.8 L383.8,1870.5 L389.0,1881.4 L394.2,1859.6 L399.4,1827.0 L403.0,1805.2 L404.6,1831.3 L408.6,1825.4 L409.5,1827.9 L409.8,1843.5 L411.8,1850.0 L413.8,1839.4 L416.3,1861.1 L417.2,1863.7 L418.8,1859.6 L420.0,1861.9 L421.3,1870.7 L422.7,1875.1 L424.5,1878.1 L425.4,1881.1 L427.2,1886.2 L429.1,1890.7 L430.9,1894.3 L432.7,1897.3 L434.5,1899.1 L435.9,1899.5 L438.2,1898.0 L440.0,1895.8 L441.8,1892.1 L443.6,1887.0 L445.5,1881.1 L447.3,1875.1 L449.1,1870.0 L450.9,1864.8 L452.8,1860.4 L454.6,1857.4 L456.4,1856.0 L458.2,1856.0 L460.0,1856.7 L461.4,1858.2 L462.3,1861.1 L463.7,1863.3 L465.5,1864.8 L466.4,1867.0 L467.3,1870.7 L467.7,1875.5 L468.2,1874.4 L469.1,1876.6 L470.5,1877.4 L472.3,1879.6 L474.6,1885.5 L476.8,1888.4 L479.1,1891.4 L481.4,1894.3 L483.7,1895.5 L486.4,1895.7 L489.1,1893.6 L491.9,1889.9 L494.6,1885.5 L497.3,1879.6 L500.5,1873.7 L503.7,1868.5 L506.5,1865.6 L510.6,1864.1 L513.3,1865.6 L516.0,1868.5 L518.7,1871.5 L521.5,1875.9 L524.2,1878.8 L526.9,1882.5 L529.7,1885.5 L532.4,1888.4 L534.7,1889.5 L537.3,1894.0 L539.9,1892.2 L542.5,1889.0 L545.1,1884.7 L547.7,1880.0 L550.3,1875.2 L552.9,1870.9 L555.5,1867.6 L558.1,1865.6 L560.7,1865.1 L563.3,1866.2 L565.9,1868.8 L568.5,1872.5 L571.1,1877.1 L573.7,1881.9 L576.3,1886.5 L578.9,1890.4 L581.5,1893.1 L584.1,1894.4 L586.7,1894.0 L589.3,1892.2 L591.9,1889.0 L594.5,1884.7 L597.1,1880.0 L599.7,1875.2 L602.3,1870.9 L604.9,1867.6 L607.5,1865.6 L610.1,1865.1 L612.7,1866.2 L615.3,1868.8 L617.9,1872.5 L620.5,1877.1 L623.1,1881.9 L625.7,1886.5 L628.3,1890.4 L630.9,1893.1 L633.5,1894.4 L636.1,1894.0 L638.7,1892.2 L641.3,1889.0 L643.9,1884.7 L646.5,1880.0 L649.1,1875.2 L651.7,1870.9 L654.3,1867.6 L656.9,1865.6 L659.5,1865.1 L662.1,1866.2 L664.7,1868.8" fill="none" stroke="#cfa02a" stroke-width="3.3" stroke-linejoin="round"/>
<path d="M144.5,1912.9 L157.0,1912.9 L160.2,1912.7 L160.8,1913.3 L165.4,1910.3 L166.0,1912.0 L170.6,1909.8 L171.2,1911.7 L175.8,1910.6 L176.4,1912.1 L181.0,1910.9 L181.6,1912.3 L186.2,1910.3 L186.8,1912.0 L191.4,1908.8 L192.0,1911.1 L196.6,1907.7 L197.2,1910.6 L201.8,1906.7 L202.5,1910.0 L207.0,1905.0 L207.7,1909.0 L212.2,1904.5 L212.9,1908.8 L217.4,1903.3 L218.1,1908.1 L222.6,1902.8 L223.3,1907.8 L227.8,1901.1 L228.5,1906.9 L233.0,1899.4 L233.7,1906.0 L238.2,1897.7 L238.9,1905.0 L243.4,1895.3 L244.1,1903.7 L248.6,1891.0 L249.3,1901.4 L253.8,1889.7 L254.5,1900.6 L259.0,1884.9 L259.7,1898.0 L264.3,1880.3 L264.9,1895.5 L269.5,1875.2 L270.1,1892.7 L274.7,1869.5 L275.3,1889.5 L279.9,1864.4 L280.5,1886.7 L285.1,1858.1 L285.7,1883.3 L290.3,1850.3 L290.9,1879.0 L295.5,1840.1 L296.1,1873.4 L300.7,1827.6 L301.3,1866.5 L305.9,1815.2 L306.5,1859.7 L311.1,1802.8 L311.7,1852.8 L316.3,1788.1 L316.9,1844.7 L321.5,1769.4 L322.1,1834.5 L326.9,1748.4 L327.6,1822.9 L331.6,1725.8 L332.2,1810.5 L333.9,1749.4 L334.9,1866.2 L337.0,1883.5 L339.6,1887.9 L342.2,1892.2 L344.8,1883.5 L347.4,1874.8 L350.0,1859.6 L352.1,1842.2 L353.1,1870.5 L357.3,1816.1 L358.3,1853.1 L362.5,1787.8 L363.5,1835.7 L367.1,1760.7 L368.2,1827.0 L372.9,1770.5 L373.9,1837.9 L378.1,1794.4 L379.1,1853.1 L383.3,1818.3 L384.3,1874.8 L388.5,1835.7 L389.5,1892.2 L393.7,1827.0 L394.7,1887.9 L398.9,1809.6 L399.9,1879.2 L404.1,1792.2 L404.6,1799.2 L405.1,1875.5 L409.2,1781.8 L410.5,1871.2 L414.7,1790.7 L415.6,1874.4 L420.2,1802.0 L420.7,1880.7 L425.4,1821.8 L425.9,1887.9 L430.6,1848.1 L431.2,1896.2 L435.8,1872.2 L436.4,1902.9 L441.0,1884.0 L441.7,1904.6 L446.2,1875.1 L446.9,1900.3 L451.4,1847.9 L452.1,1891.8 L456.5,1822.0 L457.3,1884.0 L461.8,1813.3 L462.4,1882.5 L467.0,1816.8 L467.7,1885.5 L472.1,1831.3 L472.9,1890.3 L477.5,1848.5 L478.1,1895.7 L482.7,1864.6 L483.4,1900.3 L487.8,1875.5 L488.6,1901.8 L493.0,1876.2 L493.8,1901.6 L498.2,1864.0 L498.9,1897.7 L503.4,1845.9 L504.2,1891.8 L508.6,1829.8 L509.3,1887.7 L513.8,1822.7 L514.5,1885.5 L519.0,1823.5 L519.7,1887.5 L524.2,1833.7 L524.9,1891.2 L529.4,1846.6 L530.1,1894.6 L534.7,1857.9 L535.3,1899.7 L539.9,1875.6 L540.5,1902.0 L545.1,1872.6 L545.7,1900.6 L550.3,1859.3 L550.9,1896.2 L555.5,1841.4 L556.1,1890.5 L560.7,1826.3 L561.3,1886.1 L565.9,1820.5 L566.5,1884.7 L571.1,1826.3 L571.7,1886.9 L576.3,1841.4 L576.9,1891.9 L581.5,1859.3 L582.1,1897.5 L586.7,1872.6 L587.3,1901.3 L591.9,1875.6 L592.5,1901.8 L597.1,1867.0 L597.7,1898.7 L602.3,1850.5 L602.9,1893.4 L607.5,1833.0 L608.1,1888.0 L612.7,1822.0 L613.3,1884.9 L617.9,1822.0 L618.5,1885.4 L623.1,1833.0 L623.7,1889.2 L628.3,1850.5 L628.9,1894.7 L633.5,1867.0 L634.1,1899.7 L638.7,1875.6 L639.3,1902.0 L643.9,1872.6 L644.5,1900.6 L649.1,1859.3 L649.7,1896.2 L654.3,1841.4 L654.9,1890.5 L659.5,1826.3 L660.1,1886.1 L664.7,1820.5" fill="none" stroke="#a50d3f" stroke-width="3.3" stroke-linejoin="round"/>
<path d="M144.5,1914.0 L170.5,1913.6 L196.5,1913.0 L222.5,1912.2 L248.5,1910.8 L274.6,1909.2 L300.6,1907.0 L321.4,1904.4 L333.3,1901.4 L334.9,1910.7 L338.0,1911.8 L344.8,1911.2 L348.4,1904.2 L360.4,1903.6 L364.5,1909.7 L368.2,1910.7 L373.4,1904.2 L389.0,1902.0 L404.6,1904.0 L409.0,1903.8 L409.9,1904.8 L416.3,1904.7 L425.4,1904.7 L430.9,1904.3 L434.5,1903.6 L437.3,1902.8 L441.8,1902.1 L446.4,1901.7 L451.4,1901.5 L457.3,1901.7 L472.3,1902.3 L476.8,1902.8 L486.0,1902.6 L495.1,1901.7 L499.6,1901.7 L508.7,1902.3 L517.8,1903.1 L524.7,1903.6 L534.7,1903.6 L539.9,1902.9 L550.3,1902.5 L560.7,1903.4 L571.1,1904.2 L581.5,1903.7 L591.9,1902.7 L602.3,1902.7 L612.7,1903.7 L623.1,1904.2 L633.5,1903.4 L643.9,1902.5 L654.3,1902.9 L664.7,1903.9" fill="none" stroke="#22b822" stroke-width="3.3" stroke-linejoin="round"/>
<path d="M144.5,1914.0 L334.4,1913.6 L340.1,1912.9 L341.1,1827.0 L342.2,1750.9 L343.7,1805.2 L345.3,1903.1 L347.4,1912.9 L368.2,1912.9 L369.7,1905.3 L371.3,1912.9 L389.0,1912.9 L390.6,1907.5 L392.1,1912.9 L404.6,1912.9 L409.2,1913.5 L409.8,1908.8 L410.4,1913.5 L414.4,1913.5 L415.0,1909.7 L415.6,1913.5 L416.7,1913.5 L417.3,1911.2 L418.0,1913.5 L418.0,1913.5 L418.6,1911.0 L419.3,1913.5 L419.6,1913.5 L420.2,1908.6 L420.8,1913.5 L424.8,1913.5 L425.4,1912.7 L426.0,1913.5 L461.2,1913.5 L461.8,1911.4 L462.4,1913.5 L466.4,1913.5 L467.0,1911.8 L467.6,1913.5 L471.6,1913.5 L472.2,1912.3 L472.9,1913.5 L513.2,1913.5 L513.8,1912.3 L514.5,1913.5 L518.4,1913.5 L519.0,1912.3 L519.7,1913.5 L523.6,1913.5 L524.2,1912.7 L524.9,1913.5 L534.7,1913.5 L534.7,1913.5 L565.3,1913.5 L565.9,1912.3 L566.4,1913.5 L571.1,1912.3 L571.6,1913.5 L615.3,1913.5 L617.9,1912.5 L618.4,1913.5 L664.7,1913.5" fill="none" stroke="#0c0c96" stroke-width="3.3" stroke-linejoin="round"/>
<path d="M144.5,1914.0 L332.8,1914.0 L333.9,1896.6 L335.4,1896.6 L336.5,1914.0 L338.0,1901.0 L339.6,1914.0 L365.6,1914.0 L366.6,1905.3 L370.3,1905.3 L371.3,1914.0 L664.7,1914.0" fill="none" stroke="#a6a6a6" stroke-width="3.3" stroke-linejoin="round"/>
<line x1="134.0" y1="1914.0" x2="144.5" y2="1914.0" stroke="#000" stroke-width="2.6" stroke-linecap="butt"/>
<text x="114.5" y="1926.6" font-size="37" text-anchor="end" fill="#000" >0</text>
<line x1="134.0" y1="1827.0" x2="144.5" y2="1827.0" stroke="#000" stroke-width="2.6" stroke-linecap="butt"/>
<text x="114.5" y="1839.6" font-size="37" text-anchor="end" fill="#000" >40</text>
<line x1="134.0" y1="1740.0" x2="144.5" y2="1740.0" stroke="#000" stroke-width="2.6" stroke-linecap="butt"/>
<text x="114.5" y="1752.6" font-size="37" text-anchor="end" fill="#000" >80</text>
<line x1="134.0" y1="1653.0" x2="144.5" y2="1653.0" stroke="#000" stroke-width="2.6" stroke-linecap="butt"/>
<text x="114.5" y="1665.6" font-size="37" text-anchor="end" fill="#000" >120</text>
<line x1="134.0" y1="1566.0" x2="144.5" y2="1566.0" stroke="#000" stroke-width="2.6" stroke-linecap="butt"/>
<text x="114.5" y="1578.6" font-size="37" text-anchor="end" fill="#000" >160</text>
<line x1="144.5" y1="1914.0" x2="144.5" y2="1924.5" stroke="#000" stroke-width="2.6" stroke-linecap="butt"/>
<text x="144.5" y="1968.2" font-size="37" text-anchor="middle" fill="#000" >0</text>
<line x1="274.6" y1="1914.0" x2="274.6" y2="1924.5" stroke="#000" stroke-width="2.6" stroke-linecap="butt"/>
<text x="274.6" y="1968.2" font-size="37" text-anchor="middle" fill="#000" >25</text>
<line x1="404.6" y1="1914.0" x2="404.6" y2="1924.5" stroke="#000" stroke-width="2.6" stroke-linecap="butt"/>
<text x="404.6" y="1968.2" font-size="37" text-anchor="middle" fill="#000" >50</text>
<line x1="534.7" y1="1914.0" x2="534.7" y2="1924.5" stroke="#000" stroke-width="2.6" stroke-linecap="butt"/>
<text x="534.7" y="1968.2" font-size="37" text-anchor="middle" fill="#000" >75</text>
<line x1="664.7" y1="1914.0" x2="664.7" y2="1924.5" stroke="#000" stroke-width="2.6" stroke-linecap="butt"/>
<text x="664.7" y="1968.2" font-size="37" text-anchor="middle" fill="#000" >100</text>
<text x="404.6" y="2011.1" font-size="45" text-anchor="middle" fill="#000" >time [days]</text>
<text transform="translate(39.8,1733.7) rotate(-90)" x="0" y="0" font-size="45" text-anchor="middle" textLength="310.90000000000003" lengthAdjust="spacingAndGlyphs">worms [# x 10<tspan font-size="30.6" dy="-13.0">3</tspan><tspan dy="13.0">]</tspan></text>
<text x="7.0" y="2110.7" font-size="82" text-anchor="start" fill="#000" >G</text>
<text x="263.0" y="2089.7" font-size="46" text-anchor="start" fill="#000" >simulation</text>
<text x="143.0" y="2145.5" font-size="46" text-anchor="start" fill="#000" >cull: <tspan class="rd">85%</tspan> 24h dauer &amp; larva</text>
<text x="143.0" y="2201.4" font-size="46" text-anchor="start" fill="#000" >feed: 10 mg 24h</text>
<path d="M138.0,2247.5 H148.5 V2596.0 H668.2" fill="none" stroke="#000" stroke-width="2.6"/>
<path d="M148.5,2595.3 L151.1,2595.2 L153.7,2595.1 L156.3,2595.0 L158.9,2594.9 L161.5,2594.7 L164.1,2594.1 L164.8,2594.4 L166.7,2592.8 L169.3,2590.6 L170.0,2592.5 L171.9,2590.5 L174.5,2587.7 L175.2,2591.3 L177.1,2590.0 L179.7,2588.2 L180.4,2591.7 L182.3,2590.7 L184.9,2589.2 L185.6,2592.3 L187.5,2591.4 L190.1,2590.1 L190.8,2592.5 L192.7,2591.6 L195.3,2590.4 L195.9,2592.6 L197.9,2591.9 L200.5,2590.8 L201.1,2592.8 L203.1,2591.9 L205.7,2590.7 L206.3,2592.7 L208.3,2591.8 L210.9,2590.6 L211.5,2592.6 L213.5,2591.7 L216.1,2590.6 L216.7,2592.5 L218.7,2591.5 L221.3,2590.1 L221.9,2592.4 L223.9,2591.2 L226.5,2589.7 L227.1,2592.2 L229.1,2591.0 L231.7,2589.4 L232.3,2592.1 L234.3,2590.8 L236.8,2589.2 L237.5,2592.0 L239.4,2590.7 L242.0,2588.9 L242.7,2591.8 L244.6,2590.5 L247.2,2588.6 L247.9,2591.7 L249.8,2590.3 L252.4,2588.4 L253.1,2591.6 L255.0,2590.1 L257.6,2588.0 L258.3,2591.4 L260.2,2589.8 L262.8,2587.6 L263.5,2591.2 L265.4,2589.5 L268.0,2587.2 L268.7,2591.0 L270.6,2589.2 L273.2,2586.8 L273.9,2590.8 L275.8,2588.9 L278.4,2586.4 L279.1,2590.6 L281.0,2588.7 L283.6,2586.1 L284.3,2590.4 L286.2,2588.4 L288.8,2585.7 L289.5,2590.2 L291.4,2588.1 L294.0,2585.4 L294.7,2590.0 L296.6,2587.9 L299.2,2585.0 L299.9,2589.8 L301.8,2587.6 L304.4,2584.7 L305.1,2589.6 L307.0,2587.4 L309.6,2584.4 L310.3,2589.4 L312.2,2587.1 L314.8,2584.1 L315.5,2589.1 L317.4,2586.8 L320.0,2583.8 L320.7,2588.9 L322.6,2586.6 L325.2,2583.5 L325.9,2588.7 L327.8,2586.3 L330.4,2583.1 L331.1,2588.4 L333.0,2586.0 L335.6,2582.8 L336.3,2588.2 L338.2,2585.7 L340.8,2582.4 L341.5,2587.9 L343.4,2585.4 L346.0,2582.0 L346.7,2587.7 L348.6,2585.1 L351.2,2581.6 L351.9,2587.4 L353.8,2584.8 L356.4,2581.2 L357.1,2587.2 L359.0,2584.3 L361.6,2580.4 L362.3,2586.7 L364.2,2583.7 L366.8,2579.5 L367.4,2586.3 L369.4,2583.1 L372.0,2578.7 L372.6,2585.8 L374.6,2582.5 L377.2,2577.9 L377.8,2585.4 L379.8,2581.8 L382.4,2577.1 L383.0,2585.0 L385.0,2581.1 L387.6,2575.9 L388.2,2584.4 L390.2,2580.3 L392.8,2574.8 L393.4,2583.9 L395.4,2579.6 L398.0,2573.7 L398.6,2583.4 L400.6,2578.8 L403.2,2572.5 L403.8,2582.8 L405.8,2578.2 L408.4,2572.0 L409.0,2582.3 L410.9,2577.7 L413.5,2571.5 L414.2,2582.0 L416.1,2576.9 L418.7,2570.0 L419.4,2580.9 L421.3,2575.7 L423.9,2568.6 L424.6,2580.5 L426.5,2575.2 L429.1,2568.0 L429.8,2580.4 L431.7,2575.0 L434.3,2567.8 L435.0,2580.2 L436.9,2574.8 L439.5,2567.5 L440.2,2580.0 L442.1,2574.0 L444.7,2566.0 L445.4,2579.0 L447.3,2572.7 L449.9,2564.2 L450.6,2577.9 L452.5,2571.5 L455.1,2562.8 L455.8,2577.2 L457.7,2570.6 L460.3,2561.8 L461.0,2576.8 L462.9,2570.3 L465.5,2561.4 L466.2,2576.3 L468.1,2569.3 L470.7,2559.9 L471.4,2575.3 L473.3,2568.0 L475.9,2558.2 L476.6,2574.6 L478.5,2567.0 L481.1,2556.6 L481.8,2573.9 L483.7,2566.1 L486.3,2555.5 L487.0,2573.4 L488.9,2565.2 L491.5,2554.1 L492.2,2572.6 L494.1,2564.2 L496.7,2552.9 L497.4,2572.0 L499.3,2563.4 L501.9,2551.8 L502.6,2571.3 L504.5,2562.3 L507.1,2550.2 L507.8,2570.4 L509.7,2561.2 L512.3,2548.7 L513.0,2569.5 L514.9,2559.8 L517.5,2546.6 L518.2,2568.2 L520.1,2557.6 L522.7,2543.3 L523.4,2566.4 L525.3,2555.0 L527.9,2539.6 L528.6,2563.8 L530.5,2551.7 L533.1,2535.3 L533.8,2561.6 L535.7,2548.8 L538.3,2531.6 L539.0,2559.3 L540.9,2546.3 L543.5,2528.8 L544.1,2557.7 L546.1,2544.2 L548.7,2525.9 L549.3,2556.0 L551.3,2542.0 L553.9,2523.0 L554.5,2554.4 L556.5,2539.8 L559.1,2520.0 L559.7,2552.7 L561.7,2537.5 L564.3,2517.0 L564.9,2550.9 L566.9,2535.0 L569.5,2513.5 L570.1,2548.9 L572.1,2532.3 L574.7,2510.0 L575.3,2546.8 L577.3,2529.6 L579.9,2506.3 L580.5,2544.7 L582.4,2526.8 L585.0,2502.6 L585.7,2542.6 L587.6,2524.0 L590.2,2498.8 L590.9,2540.4 L592.8,2521.0 L595.4,2494.7 L596.1,2537.9 L598.0,2517.7 L600.6,2490.4 L601.3,2535.5 L603.2,2514.4 L605.8,2485.9 L606.5,2532.8 L608.4,2510.9 L611.0,2481.3 L611.7,2530.2 L613.6,2507.3 L616.2,2476.5 L616.9,2527.4 L618.8,2503.7 L621.4,2471.6 L622.1,2524.6 L624.0,2499.9 L626.6,2466.6 L627.3,2521.8 L629.2,2496.1 L631.8,2461.4 L632.5,2519.0 L634.4,2492.2 L637.0,2456.1 L637.7,2516.0 L639.6,2488.2 L642.2,2450.7 L642.9,2513.1 L644.8,2484.1 L647.4,2444.9 L648.1,2509.9 L650.0,2479.8 L652.6,2439.0 L653.3,2506.7 L655.2,2475.4 L657.8,2433.0 L658.5,2503.5 L660.4,2470.8 L663.0,2426.8 L663.7,2500.2 L665.6,2466.3 L668.2,2420.4" fill="none" stroke="#000000" stroke-width="3.3" stroke-linejoin="round"/>
<path d="M148.5,2596.0 L161.5,2595.6 L169.3,2593.8 L174.5,2593.2 L184.9,2594.0 L200.5,2594.3 L252.4,2593.8 L304.4,2592.7 L356.4,2591.0 L398.0,2588.8 L408.4,2588.1 L413.5,2587.9 L418.7,2587.1 L423.9,2586.9 L439.5,2586.7 L444.7,2586.0 L449.9,2585.3 L455.1,2584.9 L460.3,2584.7 L465.5,2584.6 L470.7,2583.8 L475.9,2583.5 L486.3,2583.1 L496.7,2582.4 L507.1,2581.6 L512.3,2581.0 L517.5,2580.1 L522.7,2579.0 L527.9,2577.5 L533.1,2576.0 L538.3,2574.2 L564.3,2569.2 L590.2,2562.9 L616.2,2555.1 L642.2,2547.0 L668.2,2538.1" fill="none" stroke="#cfa02a" stroke-width="3.3" stroke-linejoin="round"/>
<path d="M148.5,2595.3 L161.5,2595.3 L164.1,2595.3 L164.8,2595.8 L169.3,2593.2 L170.0,2595.3 L174.5,2591.2 L175.2,2594.8 L179.7,2591.2 L180.4,2594.8 L184.9,2591.9 L185.6,2594.9 L190.1,2592.7 L190.8,2595.2 L195.3,2593.0 L195.9,2595.2 L200.5,2593.3 L201.1,2595.3 L205.7,2593.3 L206.3,2595.3 L210.9,2593.3 L211.5,2595.3 L216.1,2593.3 L216.7,2595.3 L221.3,2593.0 L221.9,2595.2 L226.5,2592.6 L227.1,2595.1 L231.7,2592.4 L232.3,2595.1 L236.8,2592.2 L237.5,2595.0 L242.0,2592.0 L242.7,2595.0 L247.2,2591.8 L247.9,2594.9 L252.4,2591.6 L253.1,2594.9 L257.6,2591.4 L258.3,2594.8 L262.8,2591.1 L263.5,2594.7 L268.0,2590.9 L268.7,2594.7 L273.2,2590.6 L273.9,2594.6 L278.4,2590.4 L279.1,2594.5 L283.6,2590.2 L284.3,2594.5 L288.8,2590.0 L289.5,2594.4 L294.0,2589.7 L294.7,2594.4 L299.2,2589.5 L299.9,2594.3 L304.4,2589.3 L305.1,2594.3 L309.6,2589.2 L310.3,2594.2 L314.8,2589.1 L315.5,2594.2 L320.0,2589.0 L320.7,2594.2 L325.2,2588.9 L325.9,2594.2 L330.4,2588.8 L331.1,2594.1 L335.6,2588.6 L336.3,2594.1 L340.8,2588.4 L341.5,2594.0 L346.0,2588.3 L346.7,2594.0 L351.2,2588.1 L351.9,2593.9 L356.4,2587.9 L357.1,2593.9 L361.6,2587.4 L362.3,2593.8 L366.8,2586.8 L367.4,2593.6 L372.0,2586.3 L372.6,2593.5 L377.2,2585.8 L377.8,2593.3 L382.4,2585.3 L383.0,2593.2 L387.6,2584.4 L388.2,2593.0 L392.8,2583.6 L393.4,2592.8 L398.0,2582.8 L398.6,2592.6 L403.2,2582.0 L403.8,2592.4 L408.4,2582.0 L409.0,2592.3 L413.5,2581.6 L414.2,2592.2 L418.7,2581.0 L419.4,2591.9 L423.9,2579.9 L424.6,2591.8 L429.1,2579.3 L429.8,2591.7 L434.3,2579.2 L435.0,2591.6 L439.5,2579.0 L440.2,2591.6 L444.7,2578.4 L445.4,2591.4 L449.9,2577.3 L450.6,2591.1 L455.1,2576.4 L455.8,2590.9 L460.3,2575.7 L461.0,2590.8 L465.5,2575.6 L466.2,2590.7 L470.7,2575.0 L471.4,2590.5 L475.9,2573.8 L476.6,2590.2 L481.1,2572.5 L481.8,2589.8 L486.3,2571.6 L487.0,2589.6 L491.5,2570.7 L492.2,2589.2 L496.7,2570.1 L497.4,2589.2 L501.9,2569.4 L502.6,2589.0 L507.1,2568.3 L507.8,2588.7 L512.3,2567.7 L513.0,2588.6 L517.5,2566.6 L518.2,2588.4 L522.7,2564.6 L523.4,2587.9 L527.9,2562.7 L528.6,2587.1 L533.1,2560.1 L533.8,2586.6 L538.3,2558.3 L539.0,2586.2 L543.5,2556.8 L544.1,2585.8 L548.7,2555.1 L549.3,2585.4 L553.9,2553.5 L554.5,2584.9 L559.1,2551.7 L559.7,2584.5 L564.3,2549.9 L564.9,2584.0 L569.5,2548.0 L570.1,2583.5 L574.7,2546.0 L575.3,2583.0 L579.9,2543.9 L580.5,2582.5 L585.0,2541.7 L585.7,2581.9 L590.2,2539.5 L590.9,2581.3 L595.4,2537.2 L596.1,2580.7 L600.6,2534.7 L601.3,2580.1 L605.8,2532.2 L606.5,2579.4 L611.0,2529.6 L611.7,2578.7 L616.2,2526.8 L616.9,2578.0 L621.4,2524.0 L622.1,2577.3 L626.6,2521.0 L627.3,2576.5 L631.8,2517.9 L632.5,2575.7 L637.0,2514.7 L637.7,2574.9 L642.2,2511.3 L642.9,2574.0 L647.4,2507.8 L648.1,2573.1 L652.6,2504.1 L653.3,2572.1 L657.8,2500.4 L658.5,2571.1 L663.0,2496.4 L663.7,2570.1 L668.2,2492.3" fill="none" stroke="#a50d3f" stroke-width="3.3" stroke-linejoin="round"/>
<path d="M148.5,2596.0 L164.1,2595.8 L174.5,2595.3 L252.4,2594.9 L330.4,2594.5 L408.4,2594.0 L434.3,2593.8 L460.3,2593.4 L473.3,2593.0 L486.3,2592.7 L512.3,2592.1 L538.3,2591.1 L564.3,2589.9 L603.2,2587.7 L631.8,2585.3 L668.2,2582.1" fill="none" stroke="#22b822" stroke-width="3.3" stroke-linejoin="round"/>
<path d="M148.5,2595.9 L668.2,2595.9" fill="none" stroke="#0c0c96" stroke-width="3.3" stroke-linejoin="round"/>
<path d="M148.5,2595.9 L668.2,2595.9" fill="none" stroke="#a6a6a6" stroke-width="3.3" stroke-linejoin="round"/>
<line x1="138.0" y1="2596.0" x2="148.5" y2="2596.0" stroke="#000" stroke-width="2.6" stroke-linecap="butt"/>
<text x="118.5" y="2608.6" font-size="37" text-anchor="end" fill="#000" >0</text>
<line x1="138.0" y1="2508.9" x2="148.5" y2="2508.9" stroke="#000" stroke-width="2.6" stroke-linecap="butt"/>
<text x="118.5" y="2521.5" font-size="37" text-anchor="end" fill="#000" >40</text>
<line x1="138.0" y1="2421.8" x2="148.5" y2="2421.8" stroke="#000" stroke-width="2.6" stroke-linecap="butt"/>
<text x="118.5" y="2434.3" font-size="37" text-anchor="end" fill="#000" >80</text>
<line x1="138.0" y1="2334.6" x2="148.5" y2="2334.6" stroke="#000" stroke-width="2.6" stroke-linecap="butt"/>
<text x="118.5" y="2347.2" font-size="37" text-anchor="end" fill="#000" >120</text>
<line x1="138.0" y1="2247.5" x2="148.5" y2="2247.5" stroke="#000" stroke-width="2.6" stroke-linecap="butt"/>
<text x="118.5" y="2260.1" font-size="37" text-anchor="end" fill="#000" >160</text>
<line x1="148.5" y1="2596.0" x2="148.5" y2="2606.5" stroke="#000" stroke-width="2.6" stroke-linecap="butt"/>
<text x="148.5" y="2650.2" font-size="37" text-anchor="middle" fill="#000" >0</text>
<line x1="278.4" y1="2596.0" x2="278.4" y2="2606.5" stroke="#000" stroke-width="2.6" stroke-linecap="butt"/>
<text x="278.4" y="2650.2" font-size="37" text-anchor="middle" fill="#000" >25</text>
<line x1="408.4" y1="2596.0" x2="408.4" y2="2606.5" stroke="#000" stroke-width="2.6" stroke-linecap="butt"/>
<text x="408.4" y="2650.2" font-size="37" text-anchor="middle" fill="#000" >50</text>
<line x1="538.3" y1="2596.0" x2="538.3" y2="2606.5" stroke="#000" stroke-width="2.6" stroke-linecap="butt"/>
<text x="538.3" y="2650.2" font-size="37" text-anchor="middle" fill="#000" >75</text>
<line x1="668.2" y1="2596.0" x2="668.2" y2="2606.5" stroke="#000" stroke-width="2.6" stroke-linecap="butt"/>
<text x="668.2" y="2650.2" font-size="37" text-anchor="middle" fill="#000" >100</text>
<text x="408.4" y="2693.1" font-size="45" text-anchor="middle" fill="#000" >time [days]</text>
<text transform="translate(42.9,2415.5) rotate(-90)" x="0" y="0" font-size="45" text-anchor="middle" textLength="310.90000000000003" lengthAdjust="spacingAndGlyphs">worms [# x 10<tspan font-size="30.6" dy="-13.0">3</tspan><tspan dy="13.0">]</tspan></text>
<text x="766.5" y="56.6" font-size="82" text-anchor="start" fill="#000" >B</text>
<text x="1180.7" y="93.4" font-size="39.5" text-anchor="middle" fill="#000" >enlarged</text>
<path d="M935.1,199.9 V549.2 H1455.2" fill="none" stroke="#000" stroke-width="2.0"/>
<path d="M934.5,350.1 L937.3,424.6 L940.0,497.4 L942.7,544.7 L944.6,547.4 L957.3,547.4 L962.8,544.7 L968.2,541.9 L973.7,540.1 L977.3,541.9 L980.9,540.1 L986.4,534.7 L991.9,528.3 L994.6,528.3 L999.1,531.9 L1002.8,531.0 L1006.4,527.4 L1011.9,524.7 L1015.5,526.5 L1019.2,531.0 L1021.9,533.8 L1024.6,531.9 L1030.1,526.5 L1033.7,522.8 L1039.2,518.3 L1044.6,511.9 L1050.1,501.0 L1053.7,491.9 L1057.4,479.2 L1059.2,473.7 L1061.9,470.1 L1064.6,455.5 L1068.3,430.0 L1071.9,402.8 L1074.7,385.5 L1077.4,399.1 L1081.0,442.8 L1084.7,497.4 L1087.4,533.8 L1089.2,547.4 L1104.7,547.4 L1110.1,542.9 L1115.6,537.4 L1120.1,533.8 L1124.7,534.7 L1128.3,530.1 L1132.0,524.7 L1135.6,519.2 L1139.2,515.6 L1142.9,517.4 L1145.6,522.8 L1149.3,517.4 L1152.9,511.9 L1155.6,506.5 L1159.3,504.6 L1162.9,510.1 L1165.6,517.4 L1170.2,515.6 L1173.8,511.0 L1177.5,504.6 L1181.1,497.4 L1184.7,495.5 L1188.4,493.7 L1192.0,490.1 L1195.6,482.8 L1190.0,493.7 L1193.6,488.3 L1198.2,479.2 L1202.7,472.8 L1205.5,486.4 L1208.2,493.7 L1212.7,481.0 L1216.4,461.0 L1219.1,442.8 L1221.3,434.6 L1224.6,450.1 L1227.3,471.9 L1230.0,488.3 L1233.7,486.4 L1236.4,471.9 L1240.0,446.4 L1242.4,440.1 L1244.6,448.2 L1247.3,470.1 L1250.0,493.7 L1252.8,493.7 L1255.5,488.3 L1258.2,471.9 L1260.1,461.0 L1262.8,455.5 L1264.6,461.0 L1267.3,479.2 L1271.0,501.0 L1273.7,508.3 L1276.4,506.5 L1279.2,497.4 L1281.9,488.3 L1284.6,484.6 L1286.4,491.9 L1289.2,506.5 L1292.8,513.7 L1296.4,513.7 L1300.1,504.6 L1303.7,501.0 L1306.4,504.6 L1310.1,513.7 L1313.7,519.2 L1317.4,521.0 L1321.0,520.1 L1325.6,518.3 L1329.2,522.8 L1333.7,526.5 L1339.2,529.2 L1344.7,530.1 L1350.1,531.0 L1354.7,532.8 L1360.1,532.8 L1366.5,531.0 L1372.0,531.0 L1375.6,530.1 L1381.0,527.4 L1386.5,522.8 L1392.0,519.2 L1397.4,515.6 L1402.9,511.0 L1408.3,505.6 L1411.1,504.6 L1415.6,510.1 L1419.3,506.5 L1424.7,501.0 L1429.3,495.5 L1432.0,497.4 L1436.5,504.6 L1440.2,504.6 L1444.7,499.2 L1449.3,493.7 L1452.0,495.5 L1455.6,506.5" fill="none" stroke="#cca030" stroke-width="2.3" stroke-linejoin="round"/>
<path d="M934.5,344.7 L938.2,271.9 L940.9,235.5 L943.6,211.8 L947.3,205.5 L951.8,206.4 L954.6,210.0 L957.3,235.5 L959.1,260.1 L963.7,255.5 L968.2,251.0 L970.0,255.5 L972.8,281.0 L975.5,326.5 L976.4,426.4 L980.0,415.5 L984.6,388.2 L988.2,377.3 L991.9,375.5 L994.6,380.9 L996.4,397.3 L998.2,411.8 L1001.0,404.6 L1004.6,401.8 L1008.2,406.4 L1011.9,419.1 L1015.5,439.1 L1019.2,459.2 L1022.8,455.5 L1026.4,452.8 L1031.9,451.9 L1035.5,450.1 L1039.2,445.5 L1041.9,452.8 L1046.4,446.4 L1050.1,441.0 L1053.7,435.5 L1057.4,430.0 L1061.0,441.0 L1063.7,441.0 L1066.5,424.6 L1070.1,397.3 L1072.8,380.9 L1075.6,376.4 L1078.3,388.2 L1080.7,400.0 L1082.8,379.1 L1086.5,326.5 L1090.1,310.1 L1093.8,308.3 L1099.2,311.9 L1101.9,321.0 L1103.8,341.0 L1112.0,339.2 L1115.6,340.1 L1118.3,348.3 L1120.1,370.0 L1122.0,406.4 L1122.9,431.9 L1126.5,424.6 L1130.1,413.7 L1133.8,408.2 L1137.4,406.4 L1141.1,413.7 L1143.8,433.7 L1145.6,430.0 L1148.3,422.8 L1152.0,420.0 L1155.6,426.4 L1159.3,437.3 L1162.9,444.6 L1165.6,449.1 L1168.4,439.1 L1172.0,431.9 L1177.5,424.6 L1181.1,417.3 L1184.7,409.1 L1187.5,412.8 L1190.2,402.8 L1193.8,391.8 L1197.5,380.9 L1195.5,380.0 L1200.0,370.1 L1203.6,380.0 L1205.5,410.0 L1208.2,408.2 L1210.9,391.8 L1214.6,373.6 L1216.4,361.0 L1220.9,358.3 L1224.6,380.0 L1226.4,394.6 L1229.1,380.9 L1233.7,335.6 L1236.4,323.7 L1241.9,322.8 L1244.6,333.7 L1247.3,363.8 L1250.0,348.3 L1254.6,313.7 L1258.2,298.3 L1262.8,299.2 L1265.5,326.5 L1268.2,361.0 L1271.0,346.5 L1275.5,313.7 L1279.2,305.5 L1282.8,307.4 L1286.4,331.9 L1289.2,364.7 L1291.9,364.7 L1296.4,335.6 L1300.1,326.5 L1304.6,329.2 L1307.4,350.1 L1310.1,380.9 L1311.9,385.5 L1314.6,375.5 L1317.4,359.2 L1321.9,355.6 L1325.6,359.2 L1329.2,380.0 L1330.1,388.2 L1332.8,402.8 L1335.6,395.5 L1339.2,388.2 L1342.8,388.2 L1346.5,393.7 L1349.2,406.4 L1352.8,426.4 L1356.5,420.9 L1360.1,419.1 L1364.7,422.8 L1368.3,430.0 L1372.0,441.0 L1374.7,448.2 L1378.3,444.6 L1382.0,442.8 L1386.5,444.6 L1390.1,448.2 L1392.9,455.5 L1395.2,458.2 L1399.2,450.1 L1402.9,446.4 L1406.5,442.8 L1411.1,441.0 L1413.8,444.6 L1415.6,446.4 L1419.3,435.5 L1422.9,426.4 L1426.5,419.1 L1431.1,413.7 L1433.8,417.3 L1436.5,420.0 L1440.2,406.4 L1443.8,393.7 L1448.4,384.6 L1452.0,384.6 L1455.6,404.6" fill="none" stroke="#8e0a3e" stroke-width="2.3" stroke-linejoin="round"/>
<path d="M935.5,549.2 L948.2,548.3 L1021.0,547.4 L1024.6,545.6 L1029.2,541.9 L1034.6,540.1 L1039.2,540.1 L1042.8,534.7 L1048.3,532.8 L1053.7,531.9 L1059.2,531.0 L1064.6,530.1 L1070.1,529.2 L1075.6,530.1 L1078.3,539.2 L1080.1,549.2 L1093.8,548.3 L1112.0,546.5 L1166.5,545.6 L1172.0,542.9 L1177.5,541.0 L1184.7,540.1 L1190.2,538.3 L1190.0,538.3 L1197.3,537.4 L1204.6,538.3 L1211.8,537.0 L1222.8,536.5 L1226.4,540.1 L1233.7,540.1 L1242.8,540.1 L1246.4,541.0 L1262.8,541.4 L1281.0,542.5 L1317.4,542.5 L1353.8,541.4 L1372.0,540.1 L1390.1,539.2 L1408.3,538.9 L1426.5,538.7 L1455.6,538.3" fill="none" stroke="#22b822" stroke-width="2.3" stroke-linejoin="round"/>
<path d="M935.5,540.1 L940.9,541.9 L946.4,543.8 L951.8,543.8 L954.6,541.0 L957.3,530.1 L960.0,506.5 L963.7,482.8 L967.3,486.4 L969.1,479.2 L971.8,433.7 L974.6,379.1 L976.9,323.7 L979.1,346.5 L982.8,380.0 L982.8,384.6 L986.4,399.1 L990.0,411.8 L992.8,418.2 L995.5,416.4 L998.2,404.6 L1000.1,417.3 L1002.8,431.9 L1006.4,446.4 L1010.1,455.5 L1013.7,459.2 L1017.3,457.3 L1018.6,454.6 L1021.0,468.3 L1024.6,481.0 L1029.2,490.1 L1033.7,497.4 L1039.2,501.0 L1041.9,508.3 L1046.4,515.6 L1051.0,519.2 L1055.5,521.0 L1058.3,517.4 L1060.1,509.2 L1062.8,515.6 L1067.4,521.0 L1071.9,523.7 L1074.7,522.8 L1077.4,513.7 L1080.7,500.1 L1082.8,504.6 L1086.5,511.9 L1090.1,517.4 L1094.7,521.9 L1098.3,522.8 L1101.0,520.1 L1104.7,520.1 L1106.5,510.1 L1110.1,497.4 L1113.8,501.0 L1116.5,497.4 L1119.2,461.0 L1122.0,415.5 L1122.9,413.7 L1124.7,437.3 L1128.3,448.2 L1132.0,459.2 L1135.6,466.4 L1139.2,469.2 L1141.1,464.6 L1143.2,452.8 L1145.6,464.6 L1148.3,473.7 L1152.0,481.0 L1155.6,486.4 L1159.3,491.0 L1162.0,491.0 L1164.7,489.2 L1166.5,497.4 L1170.2,504.6 L1173.8,510.1 L1177.5,513.7 L1182.0,515.6 L1184.7,515.6 L1187.5,520.1 L1192.0,524.7 L1195.6,527.4 L1190.0,523.7 L1193.6,526.5 L1198.2,529.2 L1200.9,526.5 L1203.6,511.9 L1206.0,493.7 L1208.2,501.0 L1211.8,508.3 L1216.4,513.7 L1220.0,514.7 L1222.8,501.0 L1226.4,485.5 L1229.1,495.5 L1233.7,501.0 L1238.2,505.6 L1241.9,507.4 L1244.6,493.7 L1247.3,477.4 L1250.0,490.1 L1253.7,493.7 L1258.2,497.4 L1261.9,500.1 L1264.6,479.2 L1267.9,455.2 L1271.0,470.1 L1274.6,477.4 L1278.2,484.6 L1282.8,487.4 L1285.5,479.2 L1289.2,447.3 L1291.9,464.6 L1295.5,471.9 L1299.2,479.2 L1303.7,483.7 L1306.4,473.7 L1309.5,448.2 L1312.8,464.6 L1316.5,473.7 L1320.1,481.0 L1324.6,488.3 L1327.4,486.4 L1330.1,466.4 L1332.8,477.4 L1336.5,484.6 L1341.0,493.7 L1345.6,499.2 L1348.3,497.4 L1351.0,485.5 L1354.7,497.4 L1359.2,504.6 L1363.8,510.1 L1367.4,511.0 L1370.1,510.1 L1372.0,504.6 L1374.7,511.9 L1379.2,517.4 L1383.8,521.0 L1388.3,522.8 L1392.0,519.2 L1394.7,522.8 L1399.2,527.4 L1404.7,530.1 L1410.2,531.0 L1413.4,528.3 L1415.6,531.9 L1421.1,534.7 L1426.5,536.5 L1431.1,535.6 L1433.8,530.1 L1436.5,532.8 L1441.1,534.7 L1446.6,536.5 L1450.2,535.6 L1452.9,530.1 L1455.6,517.4" fill="none" stroke="#0c0c8c" stroke-width="2.3" stroke-linejoin="round"/>
<path d="M935.5,549.2 L935.5,521.9 L957.3,521.9 L961.8,547.4 L966.4,549.2 L1076.5,549.2 L1080.1,529.2 L1103.8,529.2 L1107.4,547.4 L1112.0,549.2 L1200.0,549.2 L1190.0,549.2 L1208.2,548.3 L1226.4,544.7 L1235.5,545.6 L1244.6,544.7 L1250.0,544.7 L1253.7,547.4 L1266.4,547.4 L1270.1,546.5 L1275.5,548.3 L1455.6,549.2" fill="none" stroke="#a8a8a8" stroke-width="2.3" stroke-linejoin="round"/>
<line x1="924.6" y1="549.2" x2="935.1" y2="549.2" stroke="#000" stroke-width="2.0" stroke-linecap="butt"/>
<text x="903.6" y="561.8" font-size="37" text-anchor="end" fill="#000" >0</text>
<line x1="924.6" y1="432.8" x2="935.1" y2="432.8" stroke="#000" stroke-width="2.0" stroke-linecap="butt"/>
<text x="903.6" y="445.4" font-size="37" text-anchor="end" fill="#000" >30</text>
<line x1="924.6" y1="316.3" x2="935.1" y2="316.3" stroke="#000" stroke-width="2.0" stroke-linecap="butt"/>
<text x="903.6" y="328.9" font-size="37" text-anchor="end" fill="#000" >60</text>
<line x1="924.6" y1="199.9" x2="935.1" y2="199.9" stroke="#000" stroke-width="2.0" stroke-linecap="butt"/>
<text x="903.6" y="212.5" font-size="37" text-anchor="end" fill="#000" >90</text>
<line x1="935.1" y1="549.2" x2="935.1" y2="559.7" stroke="#000" stroke-width="2.0" stroke-linecap="butt"/>
<text x="935.1" y="604.2" font-size="37" text-anchor="middle" fill="#000" >50</text>
<line x1="1039.1" y1="549.2" x2="1039.1" y2="559.7" stroke="#000" stroke-width="2.0" stroke-linecap="butt"/>
<text x="1039.1" y="604.2" font-size="37" text-anchor="middle" fill="#000" >55</text>
<line x1="1143.1" y1="549.2" x2="1143.1" y2="559.7" stroke="#000" stroke-width="2.0" stroke-linecap="butt"/>
<text x="1143.1" y="604.2" font-size="37" text-anchor="middle" fill="#000" >60</text>
<line x1="1247.2" y1="549.2" x2="1247.2" y2="559.7" stroke="#000" stroke-width="2.0" stroke-linecap="butt"/>
<text x="1247.2" y="604.2" font-size="37" text-anchor="middle" fill="#000" >65</text>
<line x1="1351.2" y1="549.2" x2="1351.2" y2="559.7" stroke="#000" stroke-width="2.0" stroke-linecap="butt"/>
<text x="1351.2" y="604.2" font-size="37" text-anchor="middle" fill="#000" >70</text>
<line x1="1455.2" y1="549.2" x2="1455.2" y2="559.7" stroke="#000" stroke-width="2.0" stroke-linecap="butt"/>
<text x="1455.2" y="604.2" font-size="37" text-anchor="middle" fill="#000" >75</text>
<text x="1195.2" y="646.2" font-size="45" text-anchor="middle" fill="#000" >time [days]</text>
<text transform="translate(830.6,369.2) rotate(-90)" x="0" y="0" font-size="45" text-anchor="middle" textLength="310.5" lengthAdjust="spacingAndGlyphs">worms [# x 10<tspan font-size="30.6" dy="-13.0">3</tspan><tspan dy="13.0">]</tspan></text>
<line x1="1471.8" y1="292.6" x2="1493.8" y2="292.6" stroke="#111" stroke-width="2.8" stroke-linecap="butt"/>
<text x="1495.0" y="300.0" font-size="31.5" text-anchor="start" fill="#000" >all nodes</text>
<line x1="1471.8" y1="323.6" x2="1493.8" y2="323.6" stroke="#c4a27a" stroke-width="2.8" stroke-linecap="butt"/>
<text x="1495.0" y="333.7" font-size="31.5" text-anchor="start" fill="#000" >egg</text>
<line x1="1471.8" y1="364.7" x2="1493.8" y2="364.7" stroke="#6e0a3a" stroke-width="2.8" stroke-linecap="butt"/>
<text x="1495.0" y="374.8" font-size="31.5" text-anchor="start" fill="#000" >larva</text>
<line x1="1471.8" y1="406.0" x2="1493.8" y2="406.0" stroke="#22b022" stroke-width="2.8" stroke-linecap="butt"/>
<text x="1495.0" y="415.9" font-size="31.5" text-anchor="start" fill="#000" >adult</text>
<line x1="1471.8" y1="447.4" x2="1493.8" y2="447.4" stroke="#14148a" stroke-width="2.8" stroke-linecap="butt"/>
<text x="1495.0" y="457.0" font-size="31.5" text-anchor="start" fill="#000" >dauer</text>
<line x1="1471.8" y1="488.4" x2="1493.8" y2="488.4" stroke="#a8a8a8" stroke-width="2.8" stroke-linecap="butt"/>
<text x="1495.0" y="498.0" font-size="31.5" text-anchor="start" fill="#000" >parlad</text>
<text x="767.3" y="746.0" font-size="82" text-anchor="start" fill="#000" >D</text>
<text x="1180.1" y="772.0" font-size="39.5" text-anchor="middle" fill="#000" >enlarged</text>
<path d="M933.0,878.3 V1226.7 H1452.6" fill="none" stroke="#000" stroke-width="2.0"/>
<path d="M933.0,1226.5 L973.8,1225.0 L978.3,1210.2 L982.7,1188.0 L987.1,1158.5 L991.6,1128.9 L996.0,1099.3 L1000.4,1062.3 L1004.9,1032.7 L1009.3,1006.1 L1013.8,988.3 L1018.2,970.6 L1022.6,957.3 L1027.1,946.9 L1029.3,939.5 L1031.5,945.4 L1033.7,973.5 L1035.9,1032.7 L1038.9,1106.7 L1041.9,1165.9 L1044.1,1210.2 L1046.3,1226.5 L1057.7,1226.5 L1057.7,1226.5 L1098.5,1225.0 L1103.0,1210.2 L1107.4,1188.0 L1111.8,1158.5 L1116.3,1128.9 L1120.7,1099.3 L1125.1,1062.3 L1129.6,1032.7 L1134.0,1006.1 L1138.5,988.3 L1142.9,970.6 L1147.3,957.3 L1151.8,946.9 L1154.0,939.5 L1156.2,945.4 L1158.4,973.5 L1160.7,1032.7 L1163.6,1106.7 L1166.6,1165.9 L1168.8,1210.2 L1171.0,1226.5 L1182.4,1226.5 L1182.4,1226.5 L1223.2,1225.0 L1227.7,1210.2 L1232.1,1188.0 L1236.5,1158.5 L1241.0,1128.9 L1245.4,1099.3 L1249.9,1062.3 L1254.3,1032.7 L1258.7,1006.1 L1263.2,988.3 L1267.6,970.6 L1272.0,957.3 L1276.5,946.9 L1278.7,939.5 L1280.9,945.4 L1283.1,973.5 L1285.4,1032.7 L1288.3,1106.7 L1291.3,1165.9 L1293.5,1210.2 L1295.7,1226.5 L1307.1,1226.5 L1307.1,1226.5 L1347.9,1225.0 L1352.4,1210.2 L1356.8,1188.0 L1361.2,1158.5 L1365.7,1128.9 L1370.1,1099.3 L1374.6,1062.3 L1379.0,1032.7 L1383.4,1006.1 L1387.9,988.3 L1392.3,970.6 L1396.7,957.3 L1401.2,946.9 L1403.4,939.5 L1405.6,945.4 L1407.8,973.5 L1410.1,1032.7 L1413.0,1106.7 L1416.0,1165.9 L1418.2,1210.2 L1420.4,1226.5 L1431.8,1226.5 L1431.8,1226.5 L1452.6,1225.8" fill="none" stroke="#cca030" stroke-width="2.3" stroke-linejoin="round"/>
<path d="M933.0,988.3 L934.6,1091.9 L935.4,1164.4 L938.3,1162.9 L941.3,1158.5 L947.2,1151.1 L953.8,1146.6 L954.6,1151.1 L956.8,1198.4 L960.5,1199.9 L964.2,1201.4 L967.9,1208.8 L972.3,1214.7 L975.3,1222.1 L978.3,1225.0 L981.2,1223.6 L985.7,1219.1 L990.1,1213.2 L993.8,1204.3 L995.7,1195.4 L997.5,1202.8 L999.0,1195.4 L1003.4,1151.1 L1007.8,1106.7 L1012.3,1062.3 L1015.2,1025.3 L1018.9,1136.3 L1022.6,1062.3 L1027.1,973.5 L1031.5,907.7 L1034.5,921.8 L1036.7,944.0 L1038.2,1003.1 L1038.9,1099.3 L1041.9,1040.1 L1044.1,1003.1 L1046.3,991.3 L1048.5,987.6 L1057.7,987.6 L1057.7,987.6 L1059.3,1091.9 L1060.1,1164.4 L1063.0,1162.9 L1066.0,1158.5 L1071.9,1151.1 L1078.6,1146.6 L1079.3,1151.1 L1081.5,1198.4 L1085.2,1199.9 L1088.9,1201.4 L1092.6,1208.8 L1097.0,1214.7 L1100.0,1222.1 L1103.0,1225.0 L1105.9,1223.6 L1110.4,1219.1 L1114.8,1213.2 L1118.5,1204.3 L1120.4,1195.4 L1122.2,1202.8 L1123.7,1195.4 L1128.1,1151.1 L1132.5,1106.7 L1137.0,1062.3 L1139.9,1025.3 L1143.6,1136.3 L1147.3,1062.3 L1151.8,973.5 L1156.2,907.7 L1159.2,921.8 L1161.4,944.0 L1162.9,1003.1 L1163.6,1099.3 L1166.6,1040.1 L1168.8,1003.1 L1171.0,991.3 L1173.2,987.6 L1182.4,987.6 L1182.4,987.6 L1184.0,1091.9 L1184.8,1164.4 L1187.7,1162.9 L1190.7,1158.5 L1196.6,1151.1 L1203.3,1146.6 L1204.0,1151.1 L1206.2,1198.4 L1209.9,1199.9 L1213.6,1201.4 L1217.3,1208.8 L1221.7,1214.7 L1224.7,1222.1 L1227.7,1225.0 L1230.6,1223.6 L1235.1,1219.1 L1239.5,1213.2 L1243.2,1204.3 L1245.1,1195.4 L1246.9,1202.8 L1248.4,1195.4 L1252.8,1151.1 L1257.2,1106.7 L1261.7,1062.3 L1264.6,1025.3 L1268.3,1136.3 L1272.0,1062.3 L1276.5,973.5 L1280.9,907.7 L1283.9,921.8 L1286.1,944.0 L1287.6,1003.1 L1288.3,1099.3 L1291.3,1040.1 L1293.5,1003.1 L1295.7,991.3 L1297.9,987.6 L1307.1,987.6 L1307.1,987.6 L1308.7,1091.9 L1309.5,1164.4 L1312.4,1162.9 L1315.4,1158.5 L1321.3,1151.1 L1328.0,1146.6 L1328.7,1151.1 L1330.9,1198.4 L1334.6,1199.9 L1338.3,1201.4 L1342.0,1208.8 L1346.4,1214.7 L1349.4,1222.1 L1352.4,1225.0 L1355.3,1223.6 L1359.8,1219.1 L1364.2,1213.2 L1367.9,1204.3 L1369.8,1195.4 L1371.6,1202.8 L1373.1,1195.4 L1377.5,1151.1 L1382.0,1106.7 L1386.4,1062.3 L1389.3,1025.3 L1393.0,1136.3 L1396.7,1062.3 L1401.2,973.5 L1405.6,907.7 L1408.6,921.8 L1410.8,944.0 L1412.3,1003.1 L1413.0,1099.3 L1416.0,1040.1 L1418.2,1003.1 L1420.4,991.3 L1422.6,987.6 L1431.8,987.6 L1431.8,987.6 L1433.4,1091.9 L1434.2,1164.4 L1437.1,1162.9 L1440.1,1158.5 L1446.0,1151.1 L1452.6,1146.7" fill="none" stroke="#8e0a3e" stroke-width="2.3" stroke-linejoin="round"/>
<path d="M933.0,1226.5 L954.6,1223.6 L964.9,1220.6 L967.9,1214.7 L972.3,1210.2 L978.3,1208.8 L987.1,1207.3 L999.0,1205.8 L1031.5,1205.8 L1034.5,1210.2 L1036.7,1226.5 L1057.7,1226.5 L1057.7,1226.5 L1079.3,1223.6 L1089.6,1220.6 L1092.6,1214.7 L1097.0,1210.2 L1103.0,1208.8 L1111.8,1207.3 L1123.7,1205.8 L1156.2,1205.8 L1159.2,1210.2 L1161.4,1226.5 L1182.4,1226.5 L1182.4,1226.5 L1204.0,1223.6 L1214.3,1220.6 L1217.3,1214.7 L1221.7,1210.2 L1227.7,1208.8 L1236.5,1207.3 L1248.4,1205.8 L1280.9,1205.8 L1283.9,1210.2 L1286.1,1226.5 L1307.1,1226.5 L1307.1,1226.5 L1328.7,1223.6 L1339.1,1220.6 L1342.0,1214.7 L1346.4,1210.2 L1352.4,1208.8 L1361.2,1207.3 L1373.1,1205.8 L1405.6,1205.8 L1408.6,1210.2 L1410.8,1226.5 L1431.8,1226.5 L1431.8,1226.5 L1452.6,1223.7" fill="none" stroke="#22b822" stroke-width="2.3" stroke-linejoin="round"/>
<path d="M933.0,1226.5 L935.4,1216.2 L940.5,1171.8 L953.1,1190.3 L955.3,1216.2 L975.3,1226.5 L1031.5,1226.5 L1035.2,1216.2 L1038.9,1225.0 L1057.7,1226.5 L1057.7,1226.5 L1060.1,1216.2 L1065.2,1171.8 L1077.8,1190.3 L1080.0,1216.2 L1100.0,1226.5 L1156.2,1226.5 L1159.9,1216.2 L1163.6,1225.0 L1182.4,1226.5 L1182.4,1226.5 L1184.8,1216.2 L1189.9,1171.8 L1202.5,1190.3 L1204.7,1216.2 L1224.7,1226.5 L1280.9,1226.5 L1284.6,1216.2 L1288.3,1225.0 L1307.1,1226.5 L1307.1,1226.5 L1309.5,1216.2 L1314.6,1171.8 L1327.2,1190.3 L1329.4,1216.2 L1349.4,1226.5 L1405.6,1226.5 L1409.3,1216.2 L1413.0,1225.0 L1431.8,1226.5 L1431.8,1226.5 L1434.2,1216.2 L1439.3,1171.8 L1451.9,1190.3 L1452.6,1198.2" fill="none" stroke="#0c0c8c" stroke-width="2.3" stroke-linejoin="round"/>
<path d="M933.0,1214.7 L938.3,1226.5 L1034.5,1226.5 L1036.7,1214.7 L1057.7,1214.7 L1057.7,1214.7 L1063.0,1226.5 L1159.2,1226.5 L1161.4,1214.7 L1182.4,1214.7 L1182.4,1214.7 L1187.7,1226.5 L1283.9,1226.5 L1286.1,1214.7 L1307.1,1214.7 L1307.1,1214.7 L1312.4,1226.5 L1408.6,1226.5 L1410.8,1214.7 L1431.8,1214.7 L1431.8,1214.7 L1437.1,1226.5 L1452.6,1226.5" fill="none" stroke="#a8a8a8" stroke-width="2.3" stroke-linejoin="round"/>
<line x1="922.5" y1="1226.7" x2="933.0" y2="1226.7" stroke="#000" stroke-width="2.0" stroke-linecap="butt"/>
<text x="901.5" y="1239.3" font-size="37" text-anchor="end" fill="#000" >0</text>
<line x1="922.5" y1="1110.6" x2="933.0" y2="1110.6" stroke="#000" stroke-width="2.0" stroke-linecap="butt"/>
<text x="901.5" y="1123.2" font-size="37" text-anchor="end" fill="#000" >30</text>
<line x1="922.5" y1="994.4" x2="933.0" y2="994.4" stroke="#000" stroke-width="2.0" stroke-linecap="butt"/>
<text x="901.5" y="1007.0" font-size="37" text-anchor="end" fill="#000" >60</text>
<line x1="922.5" y1="878.3" x2="933.0" y2="878.3" stroke="#000" stroke-width="2.0" stroke-linecap="butt"/>
<text x="901.5" y="890.9" font-size="37" text-anchor="end" fill="#000" >90</text>
<line x1="933.0" y1="1226.7" x2="933.0" y2="1237.2" stroke="#000" stroke-width="2.0" stroke-linecap="butt"/>
<text x="933.0" y="1281.7" font-size="37" text-anchor="middle" fill="#000" >50</text>
<line x1="1036.9" y1="1226.7" x2="1036.9" y2="1237.2" stroke="#000" stroke-width="2.0" stroke-linecap="butt"/>
<text x="1036.9" y="1281.7" font-size="37" text-anchor="middle" fill="#000" >55</text>
<line x1="1140.8" y1="1226.7" x2="1140.8" y2="1237.2" stroke="#000" stroke-width="2.0" stroke-linecap="butt"/>
<text x="1140.8" y="1281.7" font-size="37" text-anchor="middle" fill="#000" >60</text>
<line x1="1244.8" y1="1226.7" x2="1244.8" y2="1237.2" stroke="#000" stroke-width="2.0" stroke-linecap="butt"/>
<text x="1244.8" y="1281.7" font-size="37" text-anchor="middle" fill="#000" >65</text>
<line x1="1348.7" y1="1226.7" x2="1348.7" y2="1237.2" stroke="#000" stroke-width="2.0" stroke-linecap="butt"/>
<text x="1348.7" y="1281.7" font-size="37" text-anchor="middle" fill="#000" >70</text>
<line x1="1452.6" y1="1226.7" x2="1452.6" y2="1237.2" stroke="#000" stroke-width="2.0" stroke-linecap="butt"/>
<text x="1452.6" y="1281.7" font-size="37" text-anchor="middle" fill="#000" >75</text>
<text x="1192.8" y="1323.7" font-size="45" text-anchor="middle" fill="#000" >time [days]</text>
<text transform="translate(828.0,1046.0) rotate(-90)" x="0" y="0" font-size="45" text-anchor="middle" textLength="310.6" lengthAdjust="spacingAndGlyphs">worms [# x 10<tspan font-size="30.6" dy="-13.0">3</tspan><tspan dy="13.0">]</tspan></text>
<line x1="1478.0" y1="977.1" x2="1500.3" y2="977.1" stroke="#111" stroke-width="2.8" stroke-linecap="butt"/>
<text x="1500.5" y="986.7" font-size="31.5" text-anchor="start" fill="#000" >all nodes</text>
<line x1="1478.0" y1="1008.6" x2="1500.3" y2="1008.6" stroke="#c4a27a" stroke-width="2.8" stroke-linecap="butt"/>
<text x="1500.5" y="1018.2" font-size="31.5" text-anchor="start" fill="#000" >egg</text>
<line x1="1478.0" y1="1049.7" x2="1500.3" y2="1049.7" stroke="#6e0a3a" stroke-width="2.8" stroke-linecap="butt"/>
<text x="1500.5" y="1059.9" font-size="31.5" text-anchor="start" fill="#000" >larva</text>
<line x1="1478.0" y1="1091.4" x2="1500.3" y2="1091.4" stroke="#22b022" stroke-width="2.8" stroke-linecap="butt"/>
<text x="1500.5" y="1100.9" font-size="31.5" text-anchor="start" fill="#000" >adult</text>
<line x1="1478.0" y1="1132.4" x2="1500.3" y2="1132.4" stroke="#14148a" stroke-width="2.8" stroke-linecap="butt"/>
<text x="1500.5" y="1142.0" font-size="31.5" text-anchor="start" fill="#000" >dauer</text>
<line x1="1478.0" y1="1173.5" x2="1500.3" y2="1173.5" stroke="#a8a8a8" stroke-width="2.8" stroke-linecap="butt"/>
<text x="1500.5" y="1183.0" font-size="31.5" text-anchor="start" fill="#000" >parlad</text>
<text x="767.0" y="1425.0" font-size="82" text-anchor="start" fill="#000" >F</text>
<text x="1181.9" y="1463.7" font-size="39.5" text-anchor="middle" fill="#000" >enlarged</text>
<path d="M932.8,1567.4 V1915.8 H1452.3" fill="none" stroke="#000" stroke-width="2.0"/>
<path d="M933.2,1712.8 L948.7,1697.4 L952.3,1703.7 L953.6,1742.0 L961.4,1758.2 L969.6,1731.9 L979.6,1785.5 L983.2,1791.9 L989.6,1781.8 L994.1,1787.3 L999.6,1809.1 L1005.1,1820.1 L1012.3,1827.3 L1016.0,1834.6 L1023.3,1847.4 L1030.5,1858.3 L1037.8,1867.4 L1045.1,1874.6 L1052.4,1879.2 L1057.8,1880.1 L1066.9,1876.5 L1074.2,1871.0 L1081.5,1861.9 L1088.8,1849.2 L1096.0,1834.6 L1103.3,1820.1 L1110.6,1807.3 L1117.9,1794.6 L1125.1,1783.7 L1132.4,1776.4 L1139.7,1772.8 L1147.0,1772.8 L1154.3,1774.6 L1159.7,1778.2 L1163.4,1785.5 L1168.8,1790.9 L1176.1,1794.6 L1179.7,1800.0 L1183.4,1809.1 L1185.0,1821.0 L1187.0,1818.2 L1190.6,1823.7 L1195.9,1825.5 L1203.2,1831.0 L1212.3,1845.5 L1221.4,1852.8 L1230.5,1860.1 L1239.6,1867.4 L1248.7,1870.1 L1259.6,1870.6 L1270.5,1865.5 L1281.4,1856.4 L1292.4,1845.5 L1303.3,1831.0 L1316.0,1816.4 L1328.7,1803.7 L1339.7,1796.4 L1356.0,1792.8 L1367.0,1796.4 L1377.9,1803.7 L1388.8,1811.0 L1399.7,1821.9 L1410.6,1829.2 L1421.5,1838.3 L1432.5,1845.5 L1443.4,1852.8 L1452.5,1855.5" fill="none" stroke="#cca030" stroke-width="2.3" stroke-linejoin="round"/>
<path d="M932.8,1632.8 L934.9,1820.9 L951.1,1589.9 L956.3,1810.2 L973.1,1611.9 L976.9,1818.2 L994.9,1639.8 L997.2,1833.8 L1015.9,1688.5 L1018.0,1851.5 L1036.5,1753.4 L1039.0,1871.8 L1057.5,1812.9 L1060.0,1888.5 L1078.3,1841.8 L1081.0,1892.8 L1099.0,1819.9 L1101.9,1882.0 L1119.8,1752.9 L1122.7,1861.1 L1140.2,1689.1 L1143.3,1841.8 L1161.2,1667.6 L1163.7,1838.1 L1182.2,1676.2 L1184.9,1845.6 L1202.5,1712.1 L1205.4,1857.4 L1224.1,1754.5 L1226.4,1870.8 L1244.7,1794.1 L1247.4,1882.0 L1265.3,1820.9 L1268.2,1885.8 L1286.1,1822.5 L1289.0,1885.2 L1306.8,1792.5 L1309.5,1875.6 L1327.6,1748.0 L1330.5,1861.1 L1348.4,1708.4 L1350.9,1850.9 L1369.2,1690.7 L1371.9,1845.6 L1390.0,1692.8 L1392.7,1850.4 L1410.7,1718.0 L1413.4,1859.5 L1431.5,1749.6 L1434.2,1868.1 L1452.3,1777.5" fill="none" stroke="#8e0a3e" stroke-width="2.3" stroke-linejoin="round"/>
<path d="M933.2,1891.0 L950.5,1890.7 L954.1,1893.2 L979.6,1892.8 L1016.0,1892.8 L1037.8,1891.9 L1052.4,1890.1 L1063.3,1888.3 L1081.5,1886.5 L1099.7,1885.6 L1119.7,1885.0 L1143.3,1885.6 L1203.2,1887.0 L1221.4,1888.3 L1257.8,1887.7 L1294.2,1885.6 L1312.4,1885.6 L1348.8,1887.0 L1385.1,1888.8 L1412.4,1890.1 L1452.5,1890.1" fill="none" stroke="#22b822" stroke-width="2.3" stroke-linejoin="round"/>
<path d="M932.8,1913.1 L951.1,1914.5 L953.6,1902.9 L956.1,1914.5 L971.9,1914.5 L974.4,1905.1 L976.9,1914.5 L981.2,1914.5 L983.7,1908.8 L986.2,1914.5 L986.4,1914.5 L988.9,1908.3 L991.4,1914.5 L992.6,1914.5 L995.1,1902.4 L997.6,1914.5 L1013.4,1914.5 L1015.9,1912.6 L1018.4,1914.5 L1158.9,1914.5 L1161.4,1909.4 L1163.9,1914.5 L1179.7,1914.5 L1182.2,1910.4 L1184.7,1914.5 L1200.4,1914.5 L1202.9,1911.5 L1205.4,1914.5 L1366.7,1914.5 L1369.2,1911.5 L1371.7,1914.5 L1387.5,1914.5 L1390.0,1911.5 L1392.5,1914.5 L1408.2,1914.5 L1410.7,1912.6 L1413.2,1914.5 L1452.3,1914.5" fill="none" stroke="#0c0c8c" stroke-width="2.3" stroke-linejoin="round"/>
<path d="M932.8,1915.3 L1452.3,1915.3" fill="none" stroke="#a8a8a8" stroke-width="2.3" stroke-linejoin="round"/>
<line x1="922.3" y1="1915.8" x2="932.8" y2="1915.8" stroke="#000" stroke-width="2.0" stroke-linecap="butt"/>
<text x="901.3" y="1928.4" font-size="37" text-anchor="end" fill="#000" >0</text>
<line x1="922.3" y1="1808.6" x2="932.8" y2="1808.6" stroke="#000" stroke-width="2.0" stroke-linecap="butt"/>
<text x="901.3" y="1821.2" font-size="37" text-anchor="end" fill="#000" >20</text>
<line x1="922.3" y1="1701.4" x2="932.8" y2="1701.4" stroke="#000" stroke-width="2.0" stroke-linecap="butt"/>
<text x="901.3" y="1714.0" font-size="37" text-anchor="end" fill="#000" >40</text>
<line x1="922.3" y1="1594.2" x2="932.8" y2="1594.2" stroke="#000" stroke-width="2.0" stroke-linecap="butt"/>
<text x="901.3" y="1606.8" font-size="37" text-anchor="end" fill="#000" >60</text>
<line x1="932.8" y1="1915.8" x2="932.8" y2="1926.3" stroke="#000" stroke-width="2.0" stroke-linecap="butt"/>
<text x="932.8" y="1970.8" font-size="37" text-anchor="middle" fill="#000" >50</text>
<line x1="1036.7" y1="1915.8" x2="1036.7" y2="1926.3" stroke="#000" stroke-width="2.0" stroke-linecap="butt"/>
<text x="1036.7" y="1970.8" font-size="37" text-anchor="middle" fill="#000" >55</text>
<line x1="1140.6" y1="1915.8" x2="1140.6" y2="1926.3" stroke="#000" stroke-width="2.0" stroke-linecap="butt"/>
<text x="1140.6" y="1970.8" font-size="37" text-anchor="middle" fill="#000" >60</text>
<line x1="1244.5" y1="1915.8" x2="1244.5" y2="1926.3" stroke="#000" stroke-width="2.0" stroke-linecap="butt"/>
<text x="1244.5" y="1970.8" font-size="37" text-anchor="middle" fill="#000" >65</text>
<line x1="1348.4" y1="1915.8" x2="1348.4" y2="1926.3" stroke="#000" stroke-width="2.0" stroke-linecap="butt"/>
<text x="1348.4" y="1970.8" font-size="37" text-anchor="middle" fill="#000" >70</text>
<line x1="1452.3" y1="1915.8" x2="1452.3" y2="1926.3" stroke="#000" stroke-width="2.0" stroke-linecap="butt"/>
<text x="1452.3" y="1970.8" font-size="37" text-anchor="middle" fill="#000" >75</text>
<text x="1192.5" y="2012.8" font-size="45" text-anchor="middle" fill="#000" >time [days]</text>
<text transform="translate(828.0,1735.2) rotate(-90)" x="0" y="0" font-size="45" text-anchor="middle" textLength="310.6" lengthAdjust="spacingAndGlyphs">worms [# x 10<tspan font-size="30.6" dy="-13.0">3</tspan><tspan dy="13.0">]</tspan></text>
<line x1="1477.4" y1="1657.1" x2="1500.5" y2="1657.1" stroke="#111" stroke-width="2.8" stroke-linecap="butt"/>
<text x="1501.0" y="1666.1" font-size="31.5" text-anchor="start" fill="#000" >all nodes</text>
<line x1="1477.4" y1="1690.7" x2="1500.5" y2="1690.7" stroke="#c4a27a" stroke-width="2.8" stroke-linecap="butt"/>
<text x="1501.0" y="1699.9" font-size="31.5" text-anchor="start" fill="#000" >egg</text>
<line x1="1477.4" y1="1732.0" x2="1500.5" y2="1732.0" stroke="#6e0a3a" stroke-width="2.8" stroke-linecap="butt"/>
<text x="1501.0" y="1741.5" font-size="31.5" text-anchor="start" fill="#000" >larva</text>
<line x1="1477.4" y1="1773.0" x2="1500.5" y2="1773.0" stroke="#22b022" stroke-width="2.8" stroke-linecap="butt"/>
<text x="1501.0" y="1782.6" font-size="31.5" text-anchor="start" fill="#000" >adult</text>
<line x1="1477.4" y1="1814.1" x2="1500.5" y2="1814.1" stroke="#14148a" stroke-width="2.8" stroke-linecap="butt"/>
<text x="1501.0" y="1824.3" font-size="31.5" text-anchor="start" fill="#000" >dauer</text>
<line x1="1477.4" y1="1855.8" x2="1500.5" y2="1855.8" stroke="#a8a8a8" stroke-width="2.8" stroke-linecap="butt"/>
<text x="1501.0" y="1865.3" font-size="31.5" text-anchor="start" fill="#000" >parlad</text>
<text x="764.8" y="2110.8" font-size="82" text-anchor="start" fill="#000" >H</text>
<text x="1184.6" y="2146.1" font-size="39.5" text-anchor="middle" fill="#000" >enlarged</text>
<path d="M934.1,2249.4 V2598.0 H1453.4" fill="none" stroke="#000" stroke-width="2.0"/>
<path d="M934.1,2534.6 L954.9,2533.5 L975.6,2526.5 L996.4,2524.8 L1058.7,2523.9 L1079.5,2517.8 L1100.3,2512.6 L1121.0,2509.1 L1141.8,2507.4 L1162.6,2506.5 L1183.4,2500.4 L1204.1,2497.8 L1245.7,2495.2 L1287.2,2489.1 L1328.8,2483.0 L1349.5,2477.7 L1370.3,2470.8 L1391.1,2462.0 L1411.9,2449.8 L1432.6,2437.6 L1453.4,2423.7" fill="none" stroke="#cca030" stroke-width="2.3" stroke-linejoin="round"/>
<path d="M934.1,2485.6 L936.8,2568.4 L954.9,2483.0 L957.6,2567.5 L975.6,2477.7 L978.3,2565.6 L996.4,2469.0 L999.1,2564.2 L1017.2,2464.7 L1019.9,2563.5 L1038.0,2463.8 L1040.7,2563.1 L1058.7,2462.0 L1061.4,2563.1 L1079.5,2456.8 L1082.2,2561.6 L1100.3,2448.1 L1103.0,2558.6 L1121.0,2441.1 L1123.7,2556.9 L1141.8,2435.9 L1144.5,2556.2 L1162.6,2435.0 L1165.3,2555.3 L1183.4,2430.0 L1186.1,2553.7 L1204.1,2420.2 L1206.8,2552.0 L1224.9,2409.8 L1227.6,2548.3 L1245.7,2402.8 L1248.4,2546.6 L1266.5,2395.8 L1269.2,2544.0 L1287.2,2390.6 L1289.9,2544.0 L1308.0,2385.4 L1310.7,2542.2 L1328.8,2376.6 L1331.5,2539.6 L1349.5,2371.4 L1352.2,2538.7 L1370.3,2362.7 L1373.0,2537.0 L1391.1,2347.0 L1393.8,2533.5 L1411.9,2331.3 L1414.6,2526.5 L1432.6,2310.4 L1435.3,2523.1 L1453.4,2296.5 L1453.4,2463.8" fill="none" stroke="#8e0a3e" stroke-width="2.3" stroke-linejoin="round"/>
<path d="M934.1,2582.0 L1038.0,2580.6 L1141.8,2577.1 L1193.8,2573.9 L1245.7,2571.9 L1349.5,2566.6 L1453.4,2558.4" fill="none" stroke="#22b822" stroke-width="2.3" stroke-linejoin="round"/>
<path d="M934.1,2597.1 L1453.4,2597.1" fill="none" stroke="#0c0c8c" stroke-width="2.3" stroke-linejoin="round"/>
<path d="M934.1,2597.1 L1453.4,2597.1" fill="none" stroke="#a8a8a8" stroke-width="2.3" stroke-linejoin="round"/>
<line x1="923.6" y1="2598.0" x2="934.1" y2="2598.0" stroke="#000" stroke-width="2.0" stroke-linecap="butt"/>
<text x="902.6" y="2610.6" font-size="37" text-anchor="end" fill="#000" >0</text>
<line x1="923.6" y1="2510.8" x2="934.1" y2="2510.8" stroke="#000" stroke-width="2.0" stroke-linecap="butt"/>
<text x="902.6" y="2523.4" font-size="37" text-anchor="end" fill="#000" >5</text>
<line x1="923.6" y1="2423.7" x2="934.1" y2="2423.7" stroke="#000" stroke-width="2.0" stroke-linecap="butt"/>
<text x="902.6" y="2436.3" font-size="37" text-anchor="end" fill="#000" >10</text>
<line x1="923.6" y1="2336.6" x2="934.1" y2="2336.6" stroke="#000" stroke-width="2.0" stroke-linecap="butt"/>
<text x="902.6" y="2349.2" font-size="37" text-anchor="end" fill="#000" >15</text>
<line x1="923.6" y1="2249.4" x2="934.1" y2="2249.4" stroke="#000" stroke-width="2.0" stroke-linecap="butt"/>
<text x="902.6" y="2262.0" font-size="37" text-anchor="end" fill="#000" >20</text>
<line x1="934.1" y1="2598.0" x2="934.1" y2="2608.5" stroke="#000" stroke-width="2.0" stroke-linecap="butt"/>
<text x="934.1" y="2653.0" font-size="37" text-anchor="middle" fill="#000" >50</text>
<line x1="1038.0" y1="2598.0" x2="1038.0" y2="2608.5" stroke="#000" stroke-width="2.0" stroke-linecap="butt"/>
<text x="1038.0" y="2653.0" font-size="37" text-anchor="middle" fill="#000" >55</text>
<line x1="1141.8" y1="2598.0" x2="1141.8" y2="2608.5" stroke="#000" stroke-width="2.0" stroke-linecap="butt"/>
<text x="1141.8" y="2653.0" font-size="37" text-anchor="middle" fill="#000" >60</text>
<line x1="1245.7" y1="2598.0" x2="1245.7" y2="2608.5" stroke="#000" stroke-width="2.0" stroke-linecap="butt"/>
<text x="1245.7" y="2653.0" font-size="37" text-anchor="middle" fill="#000" >65</text>
<line x1="1349.5" y1="2598.0" x2="1349.5" y2="2608.5" stroke="#000" stroke-width="2.0" stroke-linecap="butt"/>
<text x="1349.5" y="2653.0" font-size="37" text-anchor="middle" fill="#000" >70</text>
<line x1="1453.4" y1="2598.0" x2="1453.4" y2="2608.5" stroke="#000" stroke-width="2.0" stroke-linecap="butt"/>
<text x="1453.4" y="2653.0" font-size="37" text-anchor="middle" fill="#000" >75</text>
<text x="1193.8" y="2695.0" font-size="45" text-anchor="middle" fill="#000" >time [days]</text>
<text transform="translate(828.4,2417.3) rotate(-90)" x="0" y="0" font-size="45" text-anchor="middle" textLength="310.6" lengthAdjust="spacingAndGlyphs">worms [# x 10<tspan font-size="30.6" dy="-13.0">3</tspan><tspan dy="13.0">]</tspan></text>
<line x1="1477.4" y1="2336.6" x2="1500.5" y2="2336.6" stroke="#111" stroke-width="2.8" stroke-linecap="butt"/>
<text x="1500.8" y="2343.9" font-size="31.5" text-anchor="start" fill="#000" >all nodes</text>
<line x1="1477.4" y1="2372.9" x2="1500.5" y2="2372.9" stroke="#c4a27a" stroke-width="2.8" stroke-linecap="butt"/>
<text x="1500.8" y="2382.7" font-size="31.5" text-anchor="start" fill="#000" >egg</text>
<line x1="1477.4" y1="2414.2" x2="1500.5" y2="2414.2" stroke="#6e0a3a" stroke-width="2.8" stroke-linecap="butt"/>
<text x="1500.8" y="2423.8" font-size="31.5" text-anchor="start" fill="#000" >larva</text>
<line x1="1477.4" y1="2455.3" x2="1500.5" y2="2455.3" stroke="#22b022" stroke-width="2.8" stroke-linecap="butt"/>
<text x="1500.8" y="2464.9" font-size="31.5" text-anchor="start" fill="#000" >adult</text>
<line x1="1477.4" y1="2496.4" x2="1500.5" y2="2496.4" stroke="#14148a" stroke-width="2.8" stroke-linecap="butt"/>
<text x="1500.8" y="2505.9" font-size="31.5" text-anchor="start" fill="#000" >dauer</text>
<line x1="1477.4" y1="2537.5" x2="1500.5" y2="2537.5" stroke="#a8a8a8" stroke-width="2.8" stroke-linecap="butt"/>
<text x="1500.8" y="2547.0" font-size="31.5" text-anchor="start" fill="#000" >parlad</text>
</svg>
</body></html>
